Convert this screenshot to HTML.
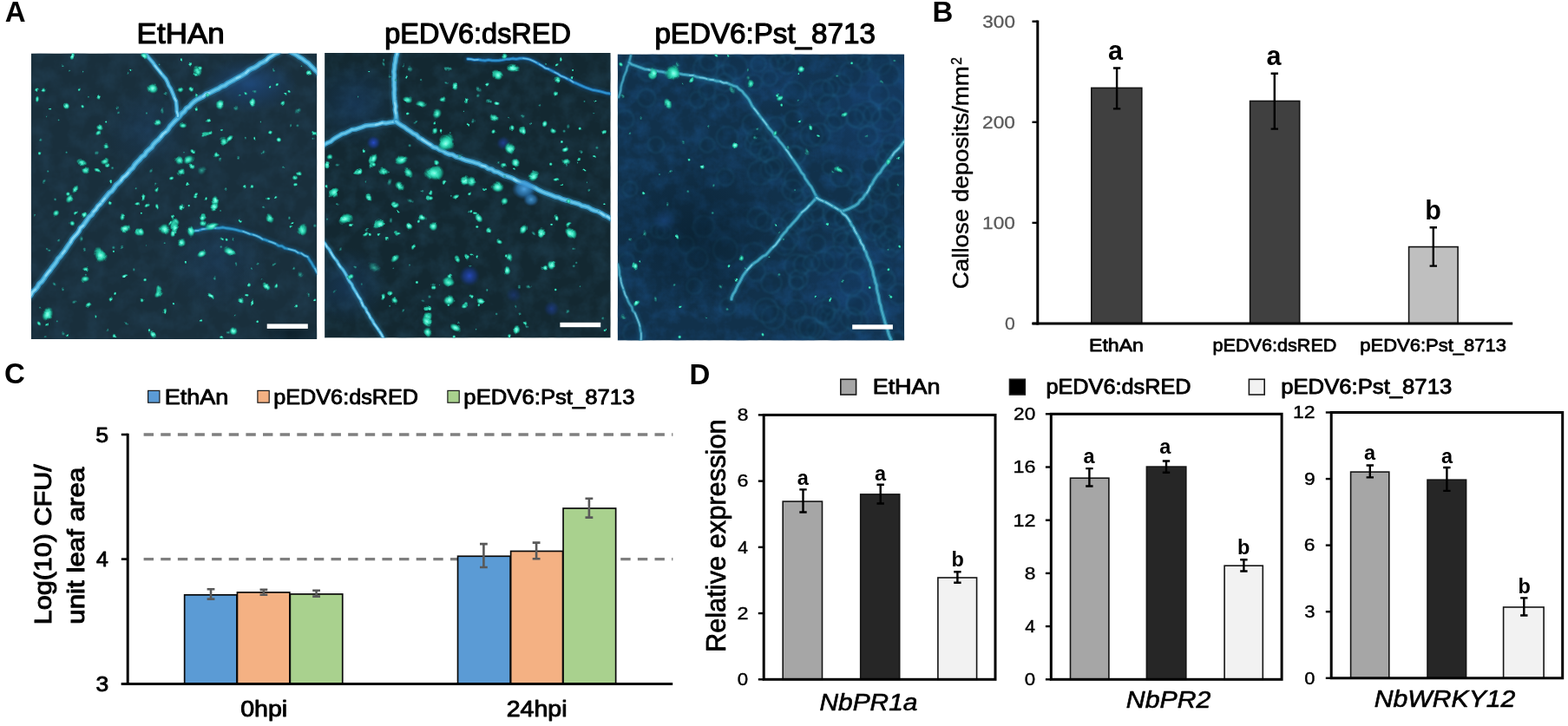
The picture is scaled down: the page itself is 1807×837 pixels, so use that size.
<!DOCTYPE html>
<html lang="en"><head><meta charset="utf-8"><title>Figure</title>
<style>
html,body{margin:0;padding:0;background:#fff;}
body{width:1807px;height:837px;overflow:hidden;}
svg{display:block;font-family:'Liberation Sans', Arial, Helvetica, sans-serif;}
</style></head><body>
<svg width="1807" height="837" viewBox="0 0 1807 837">
<rect width="1807" height="837" fill="#fff"/>
<defs>
<radialGradient id="sg"><stop offset="0" stop-color="#98fdea"/><stop offset="0.3" stop-color="#52f2d2"/><stop offset="0.6" stop-color="#22c8a4" stop-opacity="0.85"/><stop offset="0.85" stop-color="#14907c" stop-opacity="0.35"/><stop offset="1" stop-color="#0c6a60" stop-opacity="0"/></radialGradient>
<radialGradient id="sgn"><stop offset="0" stop-color="#6cf4d8"/><stop offset="0.35" stop-color="#34dcb8"/><stop offset="0.65" stop-color="#1cac90" stop-opacity="0.75"/><stop offset="1" stop-color="#0c6a60" stop-opacity="0"/></radialGradient>
<radialGradient id="sgd"><stop offset="0" stop-color="#38b8a4" stop-opacity="0.9"/><stop offset="0.5" stop-color="#208c84" stop-opacity="0.6"/><stop offset="1" stop-color="#106868" stop-opacity="0"/></radialGradient>
<radialGradient id="bl"><stop offset="0" stop-color="#2a50d8" stop-opacity="0.9"/><stop offset="0.6" stop-color="#1c40b0" stop-opacity="0.5"/><stop offset="1" stop-color="#103080" stop-opacity="0"/></radialGradient>
<radialGradient id="lb"><stop offset="0" stop-color="#50a8e8" stop-opacity="0.95"/><stop offset="0.6" stop-color="#3088d0" stop-opacity="0.6"/><stop offset="1" stop-color="#2060a0" stop-opacity="0"/></radialGradient>
<radialGradient id="hz"><stop offset="0" stop-color="#2058a8" stop-opacity="0.55"/><stop offset="1" stop-color="#2058a8" stop-opacity="0"/></radialGradient>
<radialGradient id="dk"><stop offset="0" stop-color="#04141c" stop-opacity="0.6"/><stop offset="1" stop-color="#04141c" stop-opacity="0"/></radialGradient>
<filter id="b1" color-interpolation-filters="sRGB" filterUnits="userSpaceOnUse" x="30" y="55" width="1020" height="345"><feGaussianBlur stdDeviation="0.6"/></filter>
<filter id="sp" color-interpolation-filters="sRGB" filterUnits="userSpaceOnUse" x="30" y="55" width="1020" height="345"><feTurbulence type="fractalNoise" baseFrequency="0.075" numOctaves="2" seed="3" result="t"/><feDisplacementMap in="SourceGraphic" in2="t" scale="4.5" xChannelSelector="R" yChannelSelector="G" result="d"/><feGaussianBlur in="d" stdDeviation="0.6"/></filter>
<filter id="vn" color-interpolation-filters="sRGB" filterUnits="userSpaceOnUse" x="30" y="55" width="1020" height="345"><feTurbulence type="fractalNoise" baseFrequency="0.035" numOctaves="1" seed="9" result="t"/><feDisplacementMap in="SourceGraphic" in2="t" scale="3" xChannelSelector="R" yChannelSelector="G" result="d"/><feTurbulence type="fractalNoise" baseFrequency="0.35" numOctaves="1" seed="2" result="t2"/><feDisplacementMap in="d" in2="t2" scale="1.6" xChannelSelector="R" yChannelSelector="G" result="d2"/><feGaussianBlur in="d2" stdDeviation="0.65"/></filter>
<filter id="b3" color-interpolation-filters="sRGB" filterUnits="userSpaceOnUse" x="30" y="55" width="1020" height="345"><feGaussianBlur stdDeviation="1.0"/></filter>
<filter id="b2" color-interpolation-filters="sRGB" filterUnits="userSpaceOnUse" x="30" y="55" width="1020" height="345"><feGaussianBlur stdDeviation="1.6"/></filter>
<filter id="n1" color-interpolation-filters="sRGB" x="0" y="0" width="100%" height="100%"><feTurbulence type="fractalNoise" baseFrequency="0.05" numOctaves="4" seed="4"/><feColorMatrix type="matrix" values="0 0 0 0 0.13  0 0 0 0 0.25  0 0 0 0 0.33  1.3 0 0 0 -0.50"/></filter>
<filter id="n2" color-interpolation-filters="sRGB" x="0" y="0" width="100%" height="100%"><feTurbulence type="fractalNoise" baseFrequency="0.05" numOctaves="4" seed="11"/><feColorMatrix type="matrix" values="0 0 0 0 0.12  0 0 0 0 0.25  0 0 0 0 0.32  1.3 0 0 0 -0.50"/></filter>
<filter id="n3" color-interpolation-filters="sRGB" x="0" y="0" width="100%" height="100%"><feTurbulence type="fractalNoise" baseFrequency="0.06" numOctaves="4" seed="23"/><feColorMatrix type="matrix" values="0 0 0 0 0.09  0 0 0 0 0.28  0 0 0 0 0.46  1.5 0 0 0 -0.56"/></filter>
<filter id="n3d" color-interpolation-filters="sRGB" x="0" y="0" width="100%" height="100%"><feTurbulence type="fractalNoise" baseFrequency="0.09" numOctaves="3" seed="7"/><feColorMatrix type="matrix" values="0 0 0 0 0.03  0 0 0 0 0.10  0 0 0 0 0.14  0 1.8 0 0 -0.72"/></filter>
<clipPath id="c1"><rect x="35.8" y="61.5" width="329.5" height="329.6"/></clipPath>
<clipPath id="c2"><rect x="374.1" y="61" width="329.6" height="328.6"/></clipPath>
<clipPath id="c3"><rect x="711.7" y="62.4" width="330.5" height="330.2"/></clipPath>
</defs>
<g clip-path="url(#c1)">
<rect x="35.80" y="61.50" width="329.50" height="329.60" fill="#192f3c"/>
<rect x="35.8" y="61.5" width="329.5" height="329.6" filter="url(#n1)"/>
<ellipse cx="288.0" cy="98.0" rx="55.0" ry="32.0" fill="url(#hz)" opacity="0.9"/>
<ellipse cx="250.0" cy="300.0" rx="60.0" ry="60.0" fill="url(#hz)" opacity="0.3"/>
<ellipse cx="170.0" cy="150.0" rx="50.0" ry="50.0" fill="url(#hz)" opacity="0.3"/>
<ellipse cx="335.0" cy="384.0" rx="40.0" ry="16.0" fill="url(#dk)" opacity="0.9"/>
<path d="M33.0,343.0 L35.7,340.1 L37.6,336.4 L40.7,333.8 L43.3,330.7 L45.1,327.1 L48.3,324.5 L50.6,321.3 L52.8,317.8 L55.2,314.6 L57.8,311.6 L60.0,308.3 L62.5,305.2 L64.9,302.0 L66.8,298.4 L69.7,295.6 L72.0,292.3 L74.5,289.2 L76.7,285.8 L78.9,282.5 L81.3,279.3 L83.2,275.7 L85.8,272.7 L88.6,269.7 L91.0,266.5 L92.6,262.8 L95.8,260.1 L98.1,256.8 L100.4,253.5 L102.6,250.2 L105.8,247.6 L107.8,244.1 L110.6,241.3 L112.7,237.8 L115.7,235.1 L118.2,231.9 L120.7,228.8 L123.2,225.7 L125.7,222.6 L129.0,220.2 L131.4,217.0 L133.6,213.5 L136.7,210.9 L139.5,208.1 L141.8,204.7 L145.0,202.3 L147.6,199.3 L150.1,196.1 L153.1,193.5 L155.2,189.9 L157.8,186.9 L160.7,184.2 L163.3,181.1 L166.6,178.7 L168.7,175.1 L171.6,172.4 L174.7,169.9 L176.8,166.3 L179.6,163.4 L182.7,160.8 L185.3,157.8 L187.7,154.6 L190.9,152.1 L193.7,149.3 L195.8,145.7 L198.5,142.8 L201.2,139.8 L204.1,137.1 L206.9,134.2 L209.3,131.0 L212.4,128.5 L214.7,125.0 L218.2,122.9 L220.7,119.8 L223.7,117.1 L227.0,114.8 L230.6,112.9 L234.2,111.2 L237.3,108.5 L241.2,107.3 L244.7,105.5 L248.3,103.7 L252.0,102.1 L255.3,99.7 L259.1,98.5 L262.3,96.0 L265.8,94.1 L269.4,92.2 L272.8,90.2 L276.4,88.3 L279.8,86.3 L283.3,84.2 L286.2,81.4 L289.6,79.3 L293.4,77.8 L296.8,75.7 L299.9,73.1 L303.6,71.5 L307.0,69.4 L309.9,66.5 L313.3,64.4 L316.6,62.1 L320.4,60.6 L322.0,59.0" stroke="#379ccc" stroke-width="10.2" opacity="0.26" fill="none" stroke-linecap="round" stroke-linejoin="round" filter="url(#b2)"/><g filter="url(#b1)" fill="none" stroke-linecap="round" stroke-linejoin="round"><path d="M33.0,343.0 L35.7,340.1 L37.6,336.4 L40.7,333.8 L43.3,330.7 L45.1,327.1 L48.3,324.5 L50.6,321.3 L52.8,317.8 L55.2,314.6 L57.8,311.6 L60.0,308.3 L62.5,305.2 L64.9,302.0 L66.8,298.4 L69.7,295.6 L72.0,292.3 L74.5,289.2 L76.7,285.8 L78.9,282.5 L81.3,279.3 L83.2,275.7 L85.8,272.7 L88.6,269.7 L91.0,266.5 L92.6,262.8 L95.8,260.1 L98.1,256.8 L100.4,253.5 L102.6,250.2 L105.8,247.6 L107.8,244.1 L110.6,241.3 L112.7,237.8 L115.7,235.1 L118.2,231.9 L120.7,228.8 L123.2,225.7 L125.7,222.6 L129.0,220.2 L131.4,217.0 L133.6,213.5 L136.7,210.9 L139.5,208.1 L141.8,204.7 L145.0,202.3 L147.6,199.3 L150.1,196.1 L153.1,193.5 L155.2,189.9 L157.8,186.9 L160.7,184.2 L163.3,181.1 L166.6,178.7 L168.7,175.1 L171.6,172.4 L174.7,169.9 L176.8,166.3 L179.6,163.4 L182.7,160.8 L185.3,157.8 L187.7,154.6 L190.9,152.1 L193.7,149.3 L195.8,145.7 L198.5,142.8 L201.2,139.8 L204.1,137.1 L206.9,134.2 L209.3,131.0 L212.4,128.5 L214.7,125.0 L218.2,122.9 L220.7,119.8 L223.7,117.1 L227.0,114.8 L230.6,112.9 L234.2,111.2 L237.3,108.5 L241.2,107.3 L244.7,105.5 L248.3,103.7 L252.0,102.1 L255.3,99.7 L259.1,98.5 L262.3,96.0 L265.8,94.1 L269.4,92.2 L272.8,90.2 L276.4,88.3 L279.8,86.3 L283.3,84.2 L286.2,81.4 L289.6,79.3 L293.4,77.8 L296.8,75.7 L299.9,73.1 L303.6,71.5 L307.0,69.4 L309.9,66.5 L313.3,64.4 L316.6,62.1 L320.4,60.6 L322.0,59.0" stroke="#379ccc" stroke-width="6.2" opacity="0.92"/><path d="M33.0,343.0 L35.7,340.1 L37.6,336.4 L40.7,333.8 L43.3,330.7 L45.1,327.1 L48.3,324.5 L50.6,321.3 L52.8,317.8 L55.2,314.6 L57.8,311.6 L60.0,308.3 L62.5,305.2 L64.9,302.0 L66.8,298.4 L69.7,295.6 L72.0,292.3 L74.5,289.2 L76.7,285.8 L78.9,282.5 L81.3,279.3 L83.2,275.7 L85.8,272.7 L88.6,269.7 L91.0,266.5 L92.6,262.8 L95.8,260.1 L98.1,256.8 L100.4,253.5 L102.6,250.2 L105.8,247.6 L107.8,244.1 L110.6,241.3 L112.7,237.8 L115.7,235.1 L118.2,231.9 L120.7,228.8 L123.2,225.7 L125.7,222.6 L129.0,220.2 L131.4,217.0 L133.6,213.5 L136.7,210.9 L139.5,208.1 L141.8,204.7 L145.0,202.3 L147.6,199.3 L150.1,196.1 L153.1,193.5 L155.2,189.9 L157.8,186.9 L160.7,184.2 L163.3,181.1 L166.6,178.7 L168.7,175.1 L171.6,172.4 L174.7,169.9 L176.8,166.3 L179.6,163.4 L182.7,160.8 L185.3,157.8 L187.7,154.6 L190.9,152.1 L193.7,149.3 L195.8,145.7 L198.5,142.8 L201.2,139.8 L204.1,137.1 L206.9,134.2 L209.3,131.0 L212.4,128.5 L214.7,125.0 L218.2,122.9 L220.7,119.8 L223.7,117.1 L227.0,114.8 L230.6,112.9 L234.2,111.2 L237.3,108.5 L241.2,107.3 L244.7,105.5 L248.3,103.7 L252.0,102.1 L255.3,99.7 L259.1,98.5 L262.3,96.0 L265.8,94.1 L269.4,92.2 L272.8,90.2 L276.4,88.3 L279.8,86.3 L283.3,84.2 L286.2,81.4 L289.6,79.3 L293.4,77.8 L296.8,75.7 L299.9,73.1 L303.6,71.5 L307.0,69.4 L309.9,66.5 L313.3,64.4 L316.6,62.1 L320.4,60.6 L322.0,59.0" stroke="#6cccee" stroke-width="3.1" opacity="0.85"/><path d="M33.0,343.0 L35.7,340.1 L37.6,336.4 L40.7,333.8 M52.8,317.8 L55.2,314.6 L57.8,311.6 M72.0,292.3 L74.5,289.2 M81.3,279.3 L83.2,275.7 L85.8,272.7 L88.6,269.7 M88.6,269.7 L91.0,266.5 L92.6,262.8 L95.8,260.1 M107.8,244.1 L110.6,241.3 L112.7,237.8 L115.7,235.1 M118.2,231.9 L120.7,228.8 M139.5,208.1 L141.8,204.7 L145.0,202.3 L147.6,199.3 M185.3,157.8 L187.7,154.6 L190.9,152.1 M234.2,111.2 L237.3,108.5 L241.2,107.3 M272.8,90.2 L276.4,88.3 M283.3,84.2 L286.2,81.4 M307.0,69.4 L309.9,66.5 L313.3,64.4 M313.3,64.4 L316.6,62.1 L320.4,60.6 L322.0,59.0" stroke="#a8ecff" stroke-width="2.6" opacity="0.50"/></g>
<path d="M166.0,60.0 L168.5,63.1 L171.1,66.2 L173.7,69.2 L176.3,72.2 L178.5,75.6 L181.0,78.8 L183.5,81.8 L186.0,85.0 L188.6,88.0 L191.2,91.1 L193.0,94.7 L194.4,98.5 L196.6,101.8 L198.2,105.5 L199.7,109.2 L201.1,113.0 L202.9,116.6 L203.3,120.6 L203.7,124.6 L203.8,128.6 L205.1,132.5 L205.0,134.0" stroke="#379ccc" stroke-width="8.8" opacity="0.26" fill="none" stroke-linecap="round" stroke-linejoin="round" filter="url(#b2)"/><g filter="url(#b1)" fill="none" stroke-linecap="round" stroke-linejoin="round"><path d="M166.0,60.0 L168.5,63.1 L171.1,66.2 L173.7,69.2 L176.3,72.2 L178.5,75.6 L181.0,78.8 L183.5,81.8 L186.0,85.0 L188.6,88.0 L191.2,91.1 L193.0,94.7 L194.4,98.5 L196.6,101.8 L198.2,105.5 L199.7,109.2 L201.1,113.0 L202.9,116.6 L203.3,120.6 L203.7,124.6 L203.8,128.6 L205.1,132.5 L205.0,134.0" stroke="#379ccc" stroke-width="4.8" opacity="0.92"/><path d="M166.0,60.0 L168.5,63.1 L171.1,66.2 L173.7,69.2 L176.3,72.2 L178.5,75.6 L181.0,78.8 L183.5,81.8 L186.0,85.0 L188.6,88.0 L191.2,91.1 L193.0,94.7 L194.4,98.5 L196.6,101.8 L198.2,105.5 L199.7,109.2 L201.1,113.0 L202.9,116.6 L203.3,120.6 L203.7,124.6 L203.8,128.6 L205.1,132.5 L205.0,134.0" stroke="#6cccee" stroke-width="2.4" opacity="0.85"/><path d="M178.5,75.6 L181.0,78.8 L183.5,81.8 L186.0,85.0 M201.1,113.0 L202.9,116.6 M203.8,128.6 L205.1,132.5 L205.0,134.0" stroke="#a8ecff" stroke-width="2.0" opacity="0.50"/></g>
<path d="M335.0,60.0 L338.6,61.8 L342.1,63.7 L345.3,66.1 L348.8,68.1 L351.9,70.6 L355.3,72.8 L358.1,75.7 L360.9,78.5 L363.7,81.4 L366.7,84.0 L367.0,85.0" stroke="#379ccc" stroke-width="9.8" opacity="0.26" fill="none" stroke-linecap="round" stroke-linejoin="round" filter="url(#b2)"/><g filter="url(#b1)" fill="none" stroke-linecap="round" stroke-linejoin="round"><path d="M335.0,60.0 L338.6,61.8 L342.1,63.7 L345.3,66.1 L348.8,68.1 L351.9,70.6 L355.3,72.8 L358.1,75.7 L360.9,78.5 L363.7,81.4 L366.7,84.0 L367.0,85.0" stroke="#379ccc" stroke-width="5.8" opacity="0.92"/><path d="M335.0,60.0 L338.6,61.8 L342.1,63.7 L345.3,66.1 L348.8,68.1 L351.9,70.6 L355.3,72.8 L358.1,75.7 L360.9,78.5 L363.7,81.4 L366.7,84.0 L367.0,85.0" stroke="#6cccee" stroke-width="2.9" opacity="0.85"/><path d="" stroke="#a8ecff" stroke-width="2.4" opacity="0.50"/></g>
<path d="M221.0,267.0 L224.9,266.0 L228.9,265.7 L232.7,264.4 L236.7,263.8 L240.6,263.1 L244.6,262.4 L248.6,262.9 L252.6,262.9 L256.6,262.2 L260.5,263.0 L264.5,263.5 L268.4,264.1 L272.3,265.0 L276.2,266.1 L280.1,266.8 L283.9,268.2 L287.6,269.7 L291.6,270.5 L295.3,271.8 L299.0,273.4 L302.4,275.7 L306.3,276.7 L310.0,278.2 L313.8,279.5 L317.5,281.0 L320.9,283.3 L325.0,283.7 L328.4,286.1 L332.3,287.0 L336.2,288.0 L340.1,289.1 L343.5,291.3 L347.5,292.2 L350.7,294.5 L354.5,296.1 L356.6,299.6 L358.9,302.9 L360.8,306.4 L363.1,309.7 L364.8,313.3 L366.0,315.0" stroke="#1c7cb4" stroke-width="7.8" opacity="0.22" fill="none" stroke-linecap="round" stroke-linejoin="round" filter="url(#b2)"/><g filter="url(#b1)" fill="none" stroke-linecap="round" stroke-linejoin="round"><path d="M221.0,267.0 L224.9,266.0 L228.9,265.7 L232.7,264.4 L236.7,263.8 L240.6,263.1 L244.6,262.4 L248.6,262.9 L252.6,262.9 L256.6,262.2 L260.5,263.0 L264.5,263.5 L268.4,264.1 L272.3,265.0 L276.2,266.1 L280.1,266.8 L283.9,268.2 L287.6,269.7 L291.6,270.5 L295.3,271.8 L299.0,273.4 L302.4,275.7 L306.3,276.7 L310.0,278.2 L313.8,279.5 L317.5,281.0 L320.9,283.3 L325.0,283.7 L328.4,286.1 L332.3,287.0 L336.2,288.0 L340.1,289.1 L343.5,291.3 L347.5,292.2 L350.7,294.5 L354.5,296.1 L356.6,299.6 L358.9,302.9 L360.8,306.4 L363.1,309.7 L364.8,313.3 L366.0,315.0" stroke="#1c7cb4" stroke-width="3.8" opacity="0.78"/><path d="M221.0,267.0 L224.9,266.0 L228.9,265.7 L232.7,264.4 L236.7,263.8 L240.6,263.1 L244.6,262.4 L248.6,262.9 L252.6,262.9 L256.6,262.2 L260.5,263.0 L264.5,263.5 L268.4,264.1 L272.3,265.0 L276.2,266.1 L280.1,266.8 L283.9,268.2 L287.6,269.7 L291.6,270.5 L295.3,271.8 L299.0,273.4 L302.4,275.7 L306.3,276.7 L310.0,278.2 L313.8,279.5 L317.5,281.0 L320.9,283.3 L325.0,283.7 L328.4,286.1 L332.3,287.0 L336.2,288.0 L340.1,289.1 L343.5,291.3 L347.5,292.2 L350.7,294.5 L354.5,296.1 L356.6,299.6 L358.9,302.9 L360.8,306.4 L363.1,309.7 L364.8,313.3 L366.0,315.0" stroke="#3aa8d8" stroke-width="1.9" opacity="0.72"/><path d="M221.0,267.0 L224.9,266.0 L228.9,265.7 M232.7,264.4 L236.7,263.8 M236.7,263.8 L240.6,263.1 L244.6,262.4 L248.6,262.9 M280.1,266.8 L283.9,268.2 L287.6,269.7 M291.6,270.5 L295.3,271.8 L299.0,273.4 L302.4,275.7 M310.0,278.2 L313.8,279.5 L317.5,281.0 M332.3,287.0 L336.2,288.0 L340.1,289.1 L343.5,291.3 M347.5,292.2 L350.7,294.5 L354.5,296.1 M363.1,309.7 L364.8,313.3 L366.0,315.0" stroke="#a8ecff" stroke-width="1.6" opacity="0.42"/></g>
<g filter="url(#sp)"><circle cx="227.2" cy="126.1" r="2.5" fill="url(#sgn)"/><circle cx="189.7" cy="280.3" r="1.6" fill="url(#sgd)"/><circle cx="130.9" cy="289.8" r="1.6" fill="url(#sgn)"/><circle cx="59.1" cy="125.6" r="1.4" fill="url(#sgn)"/><circle cx="156.6" cy="217.2" r="1.7" fill="url(#sgd)"/><circle cx="168.9" cy="130.5" r="1.8" fill="url(#sgd)"/><circle cx="72.5" cy="332.9" r="2.1" fill="url(#sgd)"/><circle cx="326.3" cy="191.8" r="1.8" fill="url(#sgd)"/><circle cx="169.1" cy="282.1" r="1.3" fill="url(#sgd)"/><circle cx="212.0" cy="175.7" r="1.3" fill="url(#sgd)"/><circle cx="39.1" cy="247.7" r="1.5" fill="url(#sgd)"/><circle cx="95.5" cy="83.6" r="1.5" fill="url(#sgd)"/><circle cx="275.6" cy="181.4" r="2.1" fill="url(#sgd)"/><circle cx="200.0" cy="350.2" r="1.7" fill="url(#sgn)"/><circle cx="263.4" cy="286.9" r="1.3" fill="url(#sgd)"/><circle cx="46.5" cy="175.8" r="2.4" fill="url(#sgn)"/><circle cx="311.9" cy="101.1" r="2.1" fill="url(#sgn)"/><circle cx="302.2" cy="322.6" r="1.5" fill="url(#sgd)"/><circle cx="296.8" cy="304.9" r="2.4" fill="url(#sgd)"/><circle cx="328.7" cy="107.9" r="2.4" fill="url(#sgn)"/><circle cx="147.1" cy="84.2" r="2.0" fill="url(#sgd)"/><circle cx="151.3" cy="80.9" r="1.6" fill="url(#sgn)"/><circle cx="65.8" cy="370.4" r="1.6" fill="url(#sgd)"/><circle cx="72.9" cy="384.8" r="2.4" fill="url(#sgd)"/><circle cx="67.5" cy="276.9" r="2.4" fill="url(#sgd)"/><circle cx="244.3" cy="343.9" r="1.9" fill="url(#sgd)"/><circle cx="300.6" cy="140.5" r="1.6" fill="url(#sgd)"/><circle cx="217.7" cy="238.1" r="1.7" fill="url(#sgn)"/><circle cx="130.8" cy="285.4" r="2.4" fill="url(#sgd)"/><circle cx="53.9" cy="134.5" r="1.4" fill="url(#sgd)"/><circle cx="75.6" cy="174.7" r="1.7" fill="url(#sgd)"/><circle cx="254.8" cy="284.6" r="2.1" fill="url(#sgd)"/><circle cx="254.1" cy="242.9" r="1.5" fill="url(#sgd)"/><circle cx="140.7" cy="284.4" r="2.2" fill="url(#sgd)"/><circle cx="179.2" cy="211.7" r="1.7" fill="url(#sgd)"/><circle cx="52.3" cy="388.6" r="2.2" fill="url(#sgd)"/><circle cx="255.3" cy="150.5" r="2.2" fill="url(#sgn)"/><circle cx="290.4" cy="215.0" r="2.5" fill="url(#sgn)"/><circle cx="55.2" cy="197.5" r="1.8" fill="url(#sgd)"/><circle cx="238.8" cy="109.2" r="2.2" fill="url(#sgn)"/><circle cx="56.3" cy="289.7" r="1.6" fill="url(#sgd)"/><circle cx="263.4" cy="383.3" r="2.3" fill="url(#sgd)"/><circle cx="276.2" cy="110.3" r="2.2" fill="url(#sgd)"/><circle cx="123.2" cy="140.5" r="1.6" fill="url(#sgn)"/><circle cx="67.6" cy="138.4" r="1.5" fill="url(#sgd)"/><circle cx="276.2" cy="255.2" r="2.1" fill="url(#sgn)"/><circle cx="183.6" cy="74.4" r="1.5" fill="url(#sgd)"/><circle cx="271.3" cy="364.2" r="1.9" fill="url(#sgd)"/><circle cx="231.0" cy="369.5" r="1.7" fill="url(#sgn)"/><circle cx="333.4" cy="251.8" r="1.9" fill="url(#sgd)"/><circle cx="72.3" cy="75.5" r="2.0" fill="url(#sgd)"/><circle cx="362.8" cy="260.2" r="2.5" fill="url(#sgd)"/><circle cx="80.1" cy="81.6" r="1.6" fill="url(#sgd)"/><circle cx="360.5" cy="159.8" r="1.6" fill="url(#sgd)"/><circle cx="163.8" cy="245.7" r="1.5" fill="url(#sgn)"/><circle cx="338.5" cy="310.4" r="2.4" fill="url(#sgd)"/><circle cx="46.7" cy="162.3" r="2.4" fill="url(#sgd)"/><circle cx="101.9" cy="111.7" r="1.5" fill="url(#sgd)"/><circle cx="340.6" cy="352.8" r="2.2" fill="url(#sgn)"/><circle cx="98.8" cy="317.8" r="1.6" fill="url(#sgd)"/><circle cx="47.0" cy="355.6" r="1.5" fill="url(#sgd)"/><circle cx="253.9" cy="273.9" r="2.1" fill="url(#sgd)"/><circle cx="296.7" cy="370.8" r="2.0" fill="url(#sgn)"/><circle cx="315.6" cy="80.3" r="2.1" fill="url(#sgd)"/><circle cx="253.6" cy="184.2" r="2.3" fill="url(#sgd)"/><circle cx="347.4" cy="76.3" r="1.4" fill="url(#sgd)"/><circle cx="77.3" cy="386.4" r="2.3" fill="url(#sgn)"/><circle cx="97.3" cy="288.2" r="2.3" fill="url(#sgd)"/><circle cx="124.7" cy="381.4" r="2.2" fill="url(#sgd)"/><circle cx="129.6" cy="192.7" r="2.2" fill="url(#sgd)"/><ellipse cx="83.3" cy="64.0" rx="3.1" ry="4.7" fill="url(#sg)" transform="rotate(16 83.3 64.0)"/><ellipse cx="166.1" cy="64.5" rx="3.9" ry="5.1" fill="url(#sg)" transform="rotate(126 166.1 64.5)"/><ellipse cx="41.9" cy="103.4" rx="2.6" ry="2.0" fill="url(#sgn)" transform="rotate(120 41.9 103.4)"/><ellipse cx="49.8" cy="103.4" rx="3.7" ry="3.2" fill="url(#sgn)" transform="rotate(53 49.8 103.4)"/><ellipse cx="42.9" cy="113.8" rx="2.3" ry="3.6" fill="url(#sgn)" transform="rotate(7 42.9 113.8)"/><ellipse cx="91.2" cy="103.0" rx="2.7" ry="1.9" fill="url(#sgn)" transform="rotate(99 91.2 103.0)"/><ellipse cx="114.9" cy="112.8" rx="3.3" ry="3.5" fill="url(#sgn)" transform="rotate(0 114.9 112.8)"/><ellipse cx="76.8" cy="122.1" rx="4.2" ry="3.5" fill="url(#sg)" transform="rotate(68 76.8 122.1)"/><ellipse cx="95.1" cy="122.7" rx="2.5" ry="2.1" fill="url(#sgn)" transform="rotate(58 95.1 122.7)"/><ellipse cx="176.0" cy="102.0" rx="6.7" ry="6.1" fill="url(#sg)" transform="rotate(26 176.0 102.0)"/><ellipse cx="190.7" cy="108.3" rx="3.1" ry="2.1" fill="url(#sgd)" transform="rotate(7 190.7 108.3)"/><ellipse cx="187.8" cy="128.0" rx="2.3" ry="4.0" fill="url(#sgd)" transform="rotate(166 187.8 128.0)"/><ellipse cx="181.5" cy="141.2" rx="4.1" ry="3.9" fill="url(#sgn)" transform="rotate(97 181.5 141.2)"/><ellipse cx="135.6" cy="124.1" rx="2.3" ry="1.9" fill="url(#sgd)" transform="rotate(108 135.6 124.1)"/><ellipse cx="136.5" cy="130.0" rx="2.3" ry="1.9" fill="url(#sgd)" transform="rotate(135 136.5 130.0)"/><ellipse cx="114.9" cy="147.3" rx="3.4" ry="4.6" fill="url(#sgn)" transform="rotate(112 114.9 147.3)"/><ellipse cx="113.3" cy="153.1" rx="4.2" ry="2.8" fill="url(#sgn)" transform="rotate(141 113.3 153.1)"/><ellipse cx="122.7" cy="168.8" rx="3.0" ry="4.0" fill="url(#sgn)" transform="rotate(59 122.7 168.8)"/><ellipse cx="111.9" cy="176.3" rx="2.8" ry="2.4" fill="url(#sgd)" transform="rotate(117 111.9 176.3)"/><ellipse cx="94.2" cy="187.2" rx="5.6" ry="3.7" fill="url(#sgn)" transform="rotate(5 94.2 187.2)"/><ellipse cx="99.1" cy="195.4" rx="4.4" ry="4.8" fill="url(#sgn)" transform="rotate(142 99.1 195.4)"/><ellipse cx="111.9" cy="197.0" rx="4.2" ry="2.8" fill="url(#sgn)" transform="rotate(25 111.9 197.0)"/><ellipse cx="120.8" cy="186.2" rx="3.9" ry="5.4" fill="url(#sgn)" transform="rotate(75 120.8 186.2)"/><ellipse cx="123.7" cy="190.1" rx="2.3" ry="3.5" fill="url(#sgn)" transform="rotate(85 123.7 190.1)"/><ellipse cx="50.8" cy="209.8" rx="3.1" ry="2.1" fill="url(#sgd)" transform="rotate(128 50.8 209.8)"/><ellipse cx="86.9" cy="217.7" rx="5.6" ry="3.8" fill="url(#sgn)" transform="rotate(108 86.9 217.7)"/><ellipse cx="78.4" cy="223.6" rx="2.9" ry="2.8" fill="url(#sgn)" transform="rotate(171 78.4 223.6)"/><ellipse cx="197.6" cy="204.5" rx="2.4" ry="3.4" fill="url(#sgn)" transform="rotate(72 197.6 204.5)"/><ellipse cx="180.9" cy="218.7" rx="3.6" ry="3.3" fill="url(#sgn)" transform="rotate(127 180.9 218.7)"/><ellipse cx="174.0" cy="197.0" rx="3.0" ry="2.2" fill="url(#sgd)" transform="rotate(129 174.0 197.0)"/><ellipse cx="127.7" cy="208.8" rx="2.0" ry="2.2" fill="url(#sgn)" transform="rotate(8 127.7 208.8)"/><ellipse cx="227.6" cy="81.7" rx="5.7" ry="5.8" fill="url(#sgn)" transform="rotate(103 227.6 81.7)"/><ellipse cx="230.6" cy="78.7" rx="2.7" ry="3.0" fill="url(#sgn)" transform="rotate(44 230.6 78.7)"/><ellipse cx="224.7" cy="85.6" rx="2.7" ry="3.1" fill="url(#sgn)" transform="rotate(179 224.7 85.6)"/><ellipse cx="218.7" cy="74.8" rx="2.6" ry="2.0" fill="url(#sgn)" transform="rotate(95 218.7 74.8)"/><ellipse cx="209.9" cy="68.9" rx="1.7" ry="2.6" fill="url(#sgn)" transform="rotate(169 209.9 68.9)"/><ellipse cx="206.9" cy="103.0" rx="4.0" ry="4.0" fill="url(#sgn)" transform="rotate(41 206.9 103.0)"/><ellipse cx="220.7" cy="102.4" rx="2.9" ry="2.8" fill="url(#sgn)" transform="rotate(100 220.7 102.4)"/><ellipse cx="225.6" cy="109.3" rx="2.0" ry="2.2" fill="url(#sgn)" transform="rotate(7 225.6 109.3)"/><ellipse cx="253.8" cy="120.1" rx="5.7" ry="5.8" fill="url(#sg)" transform="rotate(78 253.8 120.1)"/><ellipse cx="272.0" cy="124.1" rx="3.4" ry="2.8" fill="url(#sgd)" transform="rotate(157 272.0 124.1)"/><ellipse cx="290.7" cy="118.2" rx="4.7" ry="4.3" fill="url(#sg)" transform="rotate(100 290.7 118.2)"/><ellipse cx="283.8" cy="108.3" rx="3.1" ry="2.7" fill="url(#sgn)" transform="rotate(43 283.8 108.3)"/><ellipse cx="293.7" cy="105.4" rx="2.6" ry="2.6" fill="url(#sgd)" transform="rotate(3 293.7 105.4)"/><ellipse cx="320.3" cy="97.5" rx="2.6" ry="2.0" fill="url(#sgn)" transform="rotate(138 320.3 97.5)"/><ellipse cx="324.8" cy="119.7" rx="3.5" ry="2.4" fill="url(#sgn)" transform="rotate(140 324.8 119.7)"/><ellipse cx="333.1" cy="105.4" rx="1.8" ry="2.4" fill="url(#sgn)" transform="rotate(131 333.1 105.4)"/><ellipse cx="355.7" cy="84.3" rx="3.5" ry="4.2" fill="url(#sg)" transform="rotate(147 355.7 84.3)"/><ellipse cx="342.9" cy="128.0" rx="3.3" ry="3.9" fill="url(#sgd)" transform="rotate(68 342.9 128.0)"/><ellipse cx="240.4" cy="138.9" rx="3.1" ry="2.6" fill="url(#sgn)" transform="rotate(155 240.4 138.9)"/><ellipse cx="210.9" cy="144.8" rx="4.9" ry="3.3" fill="url(#sgn)" transform="rotate(1 210.9 144.8)"/><ellipse cx="233.7" cy="154.2" rx="3.8" ry="2.5" fill="url(#sgn)" transform="rotate(131 233.7 154.2)"/><ellipse cx="235.7" cy="153.7" rx="3.2" ry="3.0" fill="url(#sgn)" transform="rotate(109 235.7 153.7)"/><ellipse cx="237.7" cy="153.6" rx="2.9" ry="3.3" fill="url(#sgn)" transform="rotate(141 237.7 153.6)"/><ellipse cx="239.2" cy="153.7" rx="3.1" ry="3.1" fill="url(#sgn)" transform="rotate(91 239.2 153.7)"/><ellipse cx="241.2" cy="152.9" rx="3.1" ry="3.0" fill="url(#sgn)" transform="rotate(156 241.2 152.9)"/><ellipse cx="257.2" cy="162.5" rx="4.7" ry="5.6" fill="url(#sgn)" transform="rotate(153 257.2 162.5)"/><ellipse cx="264.1" cy="159.6" rx="3.4" ry="5.9" fill="url(#sg)" transform="rotate(58 264.1 159.6)"/><ellipse cx="310.4" cy="152.7" rx="3.1" ry="2.7" fill="url(#sgn)" transform="rotate(140 310.4 152.7)"/><ellipse cx="321.3" cy="161.1" rx="3.3" ry="3.1" fill="url(#sg)" transform="rotate(23 321.3 161.1)"/><ellipse cx="293.7" cy="159.6" rx="2.6" ry="2.0" fill="url(#sgn)" transform="rotate(65 293.7 159.6)"/><ellipse cx="282.8" cy="159.6" rx="1.6" ry="2.7" fill="url(#sgd)" transform="rotate(172 282.8 159.6)"/><ellipse cx="335.1" cy="144.8" rx="1.6" ry="2.7" fill="url(#sgd)" transform="rotate(4 335.1 144.8)"/><ellipse cx="342.9" cy="144.8" rx="2.1" ry="2.2" fill="url(#sgd)" transform="rotate(71 342.9 144.8)"/><ellipse cx="249.3" cy="179.3" rx="3.0" ry="3.9" fill="url(#sgn)" transform="rotate(28 249.3 179.3)"/><ellipse cx="222.7" cy="174.4" rx="3.3" ry="2.5" fill="url(#sgn)" transform="rotate(47 222.7 174.4)"/><ellipse cx="205.9" cy="185.2" rx="5.3" ry="6.2" fill="url(#sgn)" transform="rotate(17 205.9 185.2)"/><ellipse cx="217.8" cy="184.2" rx="5.2" ry="7.5" fill="url(#sgn)" transform="rotate(65 217.8 184.2)"/><ellipse cx="220.7" cy="192.1" rx="3.5" ry="3.4" fill="url(#sgn)" transform="rotate(43 220.7 192.1)"/><ellipse cx="208.9" cy="199.0" rx="4.9" ry="4.2" fill="url(#sgn)" transform="rotate(165 208.9 199.0)"/><ellipse cx="232.5" cy="196.0" rx="6.2" ry="5.1" fill="url(#sgd)" transform="rotate(116 232.5 196.0)"/><ellipse cx="303.5" cy="175.3" rx="2.8" ry="2.3" fill="url(#sgd)" transform="rotate(127 303.5 175.3)"/><ellipse cx="344.9" cy="200.6" rx="3.4" ry="3.5" fill="url(#sgn)" transform="rotate(6 344.9 200.6)"/><ellipse cx="341.0" cy="205.9" rx="3.1" ry="3.8" fill="url(#sgn)" transform="rotate(87 341.0 205.9)"/><ellipse cx="341.0" cy="212.8" rx="2.2" ry="2.4" fill="url(#sgn)" transform="rotate(48 341.0 212.8)"/><ellipse cx="281.8" cy="214.8" rx="2.0" ry="2.6" fill="url(#sgn)" transform="rotate(64 281.8 214.8)"/><ellipse cx="260.1" cy="217.7" rx="2.5" ry="1.8" fill="url(#sgd)" transform="rotate(130 260.1 217.7)"/><ellipse cx="225.6" cy="223.6" rx="4.2" ry="2.8" fill="url(#sgn)" transform="rotate(155 225.6 223.6)"/><ellipse cx="215.8" cy="212.8" rx="2.2" ry="2.4" fill="url(#sgn)" transform="rotate(5 215.8 212.8)"/><ellipse cx="361.7" cy="153.7" rx="2.5" ry="3.3" fill="url(#sgn)" transform="rotate(101 361.7 153.7)"/><ellipse cx="80.4" cy="229.0" rx="4.2" ry="6.2" fill="url(#sgn)" transform="rotate(41 80.4 229.0)"/><ellipse cx="62.6" cy="229.9" rx="2.0" ry="2.2" fill="url(#sgd)" transform="rotate(129 62.6 229.9)"/><ellipse cx="64.6" cy="245.7" rx="4.4" ry="3.7" fill="url(#sgn)" transform="rotate(139 64.6 245.7)"/><ellipse cx="86.3" cy="245.7" rx="3.3" ry="2.5" fill="url(#sgn)" transform="rotate(161 86.3 245.7)"/><ellipse cx="96.1" cy="247.7" rx="4.4" ry="3.3" fill="url(#sg)" transform="rotate(132 96.1 247.7)"/><ellipse cx="83.3" cy="257.5" rx="3.3" ry="3.5" fill="url(#sgn)" transform="rotate(134 83.3 257.5)"/><ellipse cx="93.2" cy="275.3" rx="3.9" ry="3.3" fill="url(#sgd)" transform="rotate(101 93.2 275.3)"/><ellipse cx="126.7" cy="233.9" rx="3.1" ry="2.6" fill="url(#sgn)" transform="rotate(82 126.7 233.9)"/><ellipse cx="140.5" cy="250.6" rx="4.3" ry="3.7" fill="url(#sgn)" transform="rotate(109 140.5 250.6)"/><ellipse cx="158.2" cy="234.9" rx="2.2" ry="3.7" fill="url(#sgn)" transform="rotate(76 158.2 234.9)"/><ellipse cx="170.1" cy="235.9" rx="2.3" ry="3.5" fill="url(#sgn)" transform="rotate(54 170.1 235.9)"/><ellipse cx="180.9" cy="238.8" rx="3.4" ry="2.4" fill="url(#sgn)" transform="rotate(78 180.9 238.8)"/><ellipse cx="165.1" cy="227.0" rx="2.7" ry="4.4" fill="url(#sgn)" transform="rotate(19 165.1 227.0)"/><ellipse cx="144.4" cy="263.5" rx="4.6" ry="5.6" fill="url(#sg)" transform="rotate(76 144.4 263.5)"/><ellipse cx="158.7" cy="267.2" rx="4.5" ry="5.9" fill="url(#sg)" transform="rotate(2 158.7 267.2)"/><ellipse cx="160.2" cy="268.1" rx="5.4" ry="4.9" fill="url(#sg)" transform="rotate(55 160.2 268.1)"/><ellipse cx="162.2" cy="267.5" rx="4.3" ry="6.2" fill="url(#sg)" transform="rotate(159 162.2 267.5)"/><ellipse cx="189.8" cy="263.5" rx="7.1" ry="7.0" fill="url(#sg)" transform="rotate(96 189.8 263.5)"/><ellipse cx="199.6" cy="268.4" rx="3.3" ry="4.5" fill="url(#sg)" transform="rotate(25 199.6 268.4)"/><ellipse cx="198.6" cy="250.6" rx="2.0" ry="2.7" fill="url(#sgn)" transform="rotate(172 198.6 250.6)"/><ellipse cx="196.7" cy="256.6" rx="3.4" ry="2.4" fill="url(#sgn)" transform="rotate(151 196.7 256.6)"/><ellipse cx="114.8" cy="293.6" rx="8.7" ry="7.4" fill="url(#sg)" transform="rotate(75 114.8 293.6)"/><ellipse cx="115.9" cy="295.5" rx="8.5" ry="7.6" fill="url(#sg)" transform="rotate(102 115.9 295.5)"/><ellipse cx="99.1" cy="310.8" rx="4.8" ry="3.3" fill="url(#sgn)" transform="rotate(4 99.1 310.8)"/><ellipse cx="98.1" cy="322.6" rx="3.8" ry="5.5" fill="url(#sgn)" transform="rotate(83 98.1 322.6)"/><ellipse cx="143.4" cy="317.7" rx="3.7" ry="2.8" fill="url(#sg)" transform="rotate(144 143.4 317.7)"/><ellipse cx="154.3" cy="310.8" rx="2.4" ry="1.8" fill="url(#sgd)" transform="rotate(86 154.3 310.8)"/><ellipse cx="166.1" cy="322.6" rx="2.2" ry="2.4" fill="url(#sgn)" transform="rotate(68 166.1 322.6)"/><ellipse cx="183.2" cy="334.2" rx="5.6" ry="3.8" fill="url(#sgn)" transform="rotate(88 183.2 334.2)"/><ellipse cx="183.7" cy="336.6" rx="4.7" ry="4.6" fill="url(#sgn)" transform="rotate(136 183.7 336.6)"/><ellipse cx="182.3" cy="338.9" rx="3.7" ry="5.8" fill="url(#sgn)" transform="rotate(43 182.3 338.9)"/><ellipse cx="61.6" cy="328.5" rx="2.1" ry="3.1" fill="url(#sgd)" transform="rotate(137 61.6 328.5)"/><ellipse cx="53.7" cy="288.1" rx="1.8" ry="2.5" fill="url(#sgd)" transform="rotate(85 53.7 288.1)"/><ellipse cx="127.7" cy="345.3" rx="3.0" ry="2.7" fill="url(#sgn)" transform="rotate(65 127.7 345.3)"/><ellipse cx="164.1" cy="346.3" rx="2.7" ry="3.1" fill="url(#sgn)" transform="rotate(87 164.1 346.3)"/><ellipse cx="103.0" cy="352.2" rx="2.8" ry="4.3" fill="url(#sgn)" transform="rotate(60 103.0 352.2)"/><ellipse cx="86.3" cy="348.2" rx="3.0" ry="2.2" fill="url(#sgd)" transform="rotate(154 86.3 348.2)"/><ellipse cx="54.7" cy="362.0" rx="8.0" ry="6.2" fill="url(#sg)" transform="rotate(125 54.7 362.0)"/><ellipse cx="44.9" cy="372.9" rx="2.3" ry="3.5" fill="url(#sgn)" transform="rotate(141 44.9 372.9)"/><ellipse cx="53.7" cy="374.8" rx="2.4" ry="1.9" fill="url(#sgn)" transform="rotate(82 53.7 374.8)"/><ellipse cx="189.8" cy="359.1" rx="2.6" ry="4.5" fill="url(#sgn)" transform="rotate(18 189.8 359.1)"/><ellipse cx="109.9" cy="364.0" rx="2.0" ry="2.2" fill="url(#sgn)" transform="rotate(37 109.9 364.0)"/><ellipse cx="131.6" cy="387.6" rx="3.3" ry="2.5" fill="url(#sgn)" transform="rotate(87 131.6 387.6)"/><ellipse cx="176.0" cy="385.7" rx="3.1" ry="4.7" fill="url(#sg)" transform="rotate(150 176.0 385.7)"/><ellipse cx="172.0" cy="381.7" rx="2.4" ry="1.8" fill="url(#sgn)" transform="rotate(96 172.0 381.7)"/><ellipse cx="145.4" cy="372.9" rx="1.7" ry="2.7" fill="url(#sgd)" transform="rotate(140 145.4 372.9)"/><ellipse cx="132.6" cy="338.4" rx="1.8" ry="2.4" fill="url(#sgn)" transform="rotate(20 132.6 338.4)"/><ellipse cx="248.3" cy="231.9" rx="7.0" ry="4.7" fill="url(#sg)" transform="rotate(93 248.3 231.9)"/><ellipse cx="247.3" cy="238.8" rx="5.3" ry="3.7" fill="url(#sg)" transform="rotate(144 247.3 238.8)"/><ellipse cx="224.7" cy="227.0" rx="3.5" ry="3.4" fill="url(#sgn)" transform="rotate(29 224.7 227.0)"/><ellipse cx="209.9" cy="238.8" rx="3.1" ry="3.3" fill="url(#sg)" transform="rotate(70 209.9 238.8)"/><ellipse cx="237.5" cy="229.0" rx="1.7" ry="2.6" fill="url(#sgn)" transform="rotate(11 237.5 229.0)"/><ellipse cx="202.7" cy="256.0" rx="5.6" ry="4.8" fill="url(#sg)" transform="rotate(23 202.7 256.0)"/><ellipse cx="201.8" cy="258.7" rx="5.9" ry="4.5" fill="url(#sg)" transform="rotate(48 201.8 258.7)"/><ellipse cx="201.4" cy="260.9" rx="5.0" ry="5.4" fill="url(#sg)" transform="rotate(29 201.4 260.9)"/><ellipse cx="201.9" cy="262.8" rx="4.3" ry="6.2" fill="url(#sg)" transform="rotate(26 201.9 262.8)"/><ellipse cx="233.4" cy="248.3" rx="4.6" ry="3.5" fill="url(#sg)" transform="rotate(138 233.4 248.3)"/><ellipse cx="234.2" cy="249.6" rx="3.5" ry="4.6" fill="url(#sg)" transform="rotate(122 234.2 249.6)"/><ellipse cx="233.2" cy="251.1" rx="3.7" ry="4.4" fill="url(#sg)" transform="rotate(6 233.2 251.1)"/><ellipse cx="243.4" cy="260.5" rx="5.3" ry="9.3" fill="url(#sg)" transform="rotate(75 243.4 260.5)"/><ellipse cx="219.7" cy="266.4" rx="7.1" ry="5.7" fill="url(#sg)" transform="rotate(81 219.7 266.4)"/><ellipse cx="233.5" cy="257.5" rx="3.9" ry="4.1" fill="url(#sgn)" transform="rotate(80 233.5 257.5)"/><ellipse cx="208.9" cy="280.2" rx="5.5" ry="6.1" fill="url(#sg)" transform="rotate(16 208.9 280.2)"/><ellipse cx="232.5" cy="293.6" rx="6.2" ry="4.2" fill="url(#sg)" transform="rotate(153 232.5 293.6)"/><ellipse cx="265.1" cy="289.5" rx="8.7" ry="5.7" fill="url(#sg)" transform="rotate(28 265.1 289.5)"/><ellipse cx="311.0" cy="252.6" rx="5.0" ry="6.5" fill="url(#sgn)" transform="rotate(158 311.0 252.6)"/><ellipse cx="348.7" cy="263.8" rx="7.3" ry="5.2" fill="url(#sgn)" transform="rotate(120 348.7 263.8)"/><ellipse cx="348.3" cy="265.2" rx="6.3" ry="6.0" fill="url(#sgn)" transform="rotate(78 348.3 265.2)"/><ellipse cx="308.4" cy="229.0" rx="1.9" ry="2.7" fill="url(#sgn)" transform="rotate(92 308.4 229.0)"/><ellipse cx="317.3" cy="227.6" rx="1.8" ry="2.9" fill="url(#sgn)" transform="rotate(71 317.3 227.6)"/><ellipse cx="303.5" cy="238.8" rx="1.7" ry="2.6" fill="url(#sgd)" transform="rotate(114 303.5 238.8)"/><ellipse cx="255.2" cy="275.3" rx="1.8" ry="2.9" fill="url(#sgn)" transform="rotate(147 255.2 275.3)"/><ellipse cx="260.1" cy="276.3" rx="2.3" ry="2.0" fill="url(#sgn)" transform="rotate(58 260.1 276.3)"/><ellipse cx="269.0" cy="276.3" rx="2.0" ry="2.2" fill="url(#sgd)" transform="rotate(78 269.0 276.3)"/><ellipse cx="315.3" cy="304.9" rx="2.0" ry="3.3" fill="url(#sgd)" transform="rotate(47 315.3 304.9)"/><ellipse cx="289.7" cy="309.8" rx="1.9" ry="2.3" fill="url(#sgd)" transform="rotate(148 289.7 309.8)"/><ellipse cx="273.0" cy="304.9" rx="2.5" ry="1.8" fill="url(#sgd)" transform="rotate(77 273.0 304.9)"/><ellipse cx="346.9" cy="316.7" rx="3.1" ry="4.1" fill="url(#sgd)" transform="rotate(25 346.9 316.7)"/><ellipse cx="286.8" cy="327.5" rx="2.9" ry="2.8" fill="url(#sgn)" transform="rotate(148 286.8 327.5)"/><ellipse cx="307.1" cy="330.1" rx="5.2" ry="3.9" fill="url(#sg)" transform="rotate(23 307.1 330.1)"/><ellipse cx="318.3" cy="329.5" rx="2.5" ry="3.3" fill="url(#sgn)" transform="rotate(5 318.3 329.5)"/><ellipse cx="247.3" cy="321.2" rx="3.0" ry="2.2" fill="url(#sgd)" transform="rotate(102 247.3 321.2)"/><ellipse cx="242.4" cy="341.3" rx="3.0" ry="4.9" fill="url(#sg)" transform="rotate(141 242.4 341.3)"/><ellipse cx="277.5" cy="346.3" rx="4.1" ry="2.9" fill="url(#sgn)" transform="rotate(19 277.5 346.3)"/><ellipse cx="290.7" cy="348.6" rx="2.2" ry="3.8" fill="url(#sgn)" transform="rotate(2 290.7 348.6)"/><ellipse cx="284.8" cy="341.3" rx="1.9" ry="2.3" fill="url(#sgn)" transform="rotate(91 284.8 341.3)"/><ellipse cx="269.0" cy="381.7" rx="5.1" ry="5.1" fill="url(#sg)" transform="rotate(39 269.0 381.7)"/><ellipse cx="255.2" cy="388.6" rx="1.8" ry="2.9" fill="url(#sgn)" transform="rotate(83 255.2 388.6)"/><ellipse cx="213.8" cy="302.9" rx="1.7" ry="2.7" fill="url(#sgn)" transform="rotate(170 213.8 302.9)"/><ellipse cx="362.6" cy="346.3" rx="1.9" ry="2.7" fill="url(#sgn)" transform="rotate(38 362.6 346.3)"/><ellipse cx="355.7" cy="339.4" rx="2.6" ry="1.7" fill="url(#sgd)" transform="rotate(81 355.7 339.4)"/><ellipse cx="335.1" cy="261.5" rx="1.9" ry="2.3" fill="url(#sgn)" transform="rotate(131 335.1 261.5)"/><ellipse cx="337.0" cy="257.5" rx="2.5" ry="1.8" fill="url(#sgn)" transform="rotate(154 337.0 257.5)"/></g>
<rect x="307.70" y="373.40" width="47.10" height="5.50" fill="#fff"/>
</g>
<g clip-path="url(#c2)">
<rect x="374.10" y="61.00" width="329.60" height="328.60" fill="#132831"/>
<rect x="374.1" y="61" width="329.6" height="328.6" filter="url(#n2)"/>
<ellipse cx="410.0" cy="120.0" rx="50.0" ry="50.0" fill="url(#hz)" opacity="0.5"/>
<ellipse cx="400.0" cy="330.0" rx="45.0" ry="45.0" fill="url(#hz)" opacity="0.5"/>
<ellipse cx="430.5" cy="164.5" rx="8.0" ry="8.0" fill="url(#bl)" opacity="1"/>
<ellipse cx="541.0" cy="318.0" rx="12.0" ry="12.0" fill="url(#bl)" opacity="0.9"/>
<ellipse cx="635.6" cy="356.0" rx="9.0" ry="9.0" fill="url(#bl)" opacity="0.5"/>
<ellipse cx="592.0" cy="340.0" rx="9.0" ry="9.0" fill="url(#bl)" opacity="0.35"/>
<ellipse cx="580.0" cy="165.0" rx="8.0" ry="8.0" fill="url(#bl)" opacity="0.6"/>
<path d="M458.0,59.0 L457.3,62.9 L456.1,66.8 L455.7,70.8 L454.8,74.7 L454.6,78.7 L453.9,82.7 L454.4,86.7 L454.0,90.7 L454.3,94.7 L454.2,98.7 L454.6,102.7 L454.2,106.7 L454.4,110.7 L454.7,114.7 L455.1,118.7 L455.9,122.6 L455.4,126.7 L456.2,130.6 L456.7,134.6 L456.5,138.0" stroke="#379ccc" stroke-width="9.8" opacity="0.26" fill="none" stroke-linecap="round" stroke-linejoin="round" filter="url(#b2)"/><g filter="url(#b1)" fill="none" stroke-linecap="round" stroke-linejoin="round"><path d="M458.0,59.0 L457.3,62.9 L456.1,66.8 L455.7,70.8 L454.8,74.7 L454.6,78.7 L453.9,82.7 L454.4,86.7 L454.0,90.7 L454.3,94.7 L454.2,98.7 L454.6,102.7 L454.2,106.7 L454.4,110.7 L454.7,114.7 L455.1,118.7 L455.9,122.6 L455.4,126.7 L456.2,130.6 L456.7,134.6 L456.5,138.0" stroke="#379ccc" stroke-width="5.8" opacity="0.92"/><path d="M458.0,59.0 L457.3,62.9 L456.1,66.8 L455.7,70.8 L454.8,74.7 L454.6,78.7 L453.9,82.7 L454.4,86.7 L454.0,90.7 L454.3,94.7 L454.2,98.7 L454.6,102.7 L454.2,106.7 L454.4,110.7 L454.7,114.7 L455.1,118.7 L455.9,122.6 L455.4,126.7 L456.2,130.6 L456.7,134.6 L456.5,138.0" stroke="#6cccee" stroke-width="2.9" opacity="0.85"/><path d="M458.0,59.0 L457.3,62.9 M455.1,118.7 L455.9,122.6 L455.4,126.7 L456.2,130.6" stroke="#a8ecff" stroke-width="2.4" opacity="0.50"/></g>
<path d="M456.5,140.0 L452.6,140.7 L448.6,141.3 L444.7,142.1 L440.6,141.6 L436.7,142.8 L432.8,143.8 L428.8,144.2 L424.8,144.6 L420.9,145.1 L417.1,146.6 L413.3,147.8 L409.5,149.1 L405.4,149.5 L401.9,151.6 L398.3,153.3 L394.4,154.3 L391.0,156.4 L387.5,158.4 L384.1,160.5 L381.1,163.3 L377.3,164.8 L373.8,166.7 L372.0,168.5" stroke="#379ccc" stroke-width="9.5" opacity="0.26" fill="none" stroke-linecap="round" stroke-linejoin="round" filter="url(#b2)"/><g filter="url(#b1)" fill="none" stroke-linecap="round" stroke-linejoin="round"><path d="M456.5,140.0 L452.6,140.7 L448.6,141.3 L444.7,142.1 L440.6,141.6 L436.7,142.8 L432.8,143.8 L428.8,144.2 L424.8,144.6 L420.9,145.1 L417.1,146.6 L413.3,147.8 L409.5,149.1 L405.4,149.5 L401.9,151.6 L398.3,153.3 L394.4,154.3 L391.0,156.4 L387.5,158.4 L384.1,160.5 L381.1,163.3 L377.3,164.8 L373.8,166.7 L372.0,168.5" stroke="#379ccc" stroke-width="5.5" opacity="0.92"/><path d="M456.5,140.0 L452.6,140.7 L448.6,141.3 L444.7,142.1 L440.6,141.6 L436.7,142.8 L432.8,143.8 L428.8,144.2 L424.8,144.6 L420.9,145.1 L417.1,146.6 L413.3,147.8 L409.5,149.1 L405.4,149.5 L401.9,151.6 L398.3,153.3 L394.4,154.3 L391.0,156.4 L387.5,158.4 L384.1,160.5 L381.1,163.3 L377.3,164.8 L373.8,166.7 L372.0,168.5" stroke="#6cccee" stroke-width="2.8" opacity="0.85"/><path d="M456.5,140.0 L452.6,140.7 M440.6,141.6 L436.7,142.8 L432.8,143.8" stroke="#a8ecff" stroke-width="2.3" opacity="0.50"/></g>
<path d="M456.5,140.0 L459.6,142.6 L462.9,144.7 L466.4,146.8 L469.5,149.3 L472.9,151.4 L476.1,153.8 L479.8,155.5 L482.6,158.5 L486.1,160.5 L489.4,162.8 L492.8,164.9 L496.2,166.9 L499.3,169.5 L503.3,170.6 L506.7,172.7 L510.5,174.1 L513.8,176.4 L517.6,177.8 L521.6,178.4 L525.1,180.6 L529.0,181.6 L532.7,183.2 L536.4,184.6 L540.3,185.6 L544.2,186.6 L548.0,187.8 L551.8,188.9 L555.4,190.9 L559.3,191.9 L562.6,194.4 L566.7,195.1 L569.9,197.6 L573.9,198.5 L577.4,200.4 L580.9,202.4 L584.8,203.4 L588.6,204.7 L592.2,206.4 L595.7,208.5 L599.4,210.0 L603.4,210.8 L607.1,212.3 L610.7,214.1 L614.4,215.7 L618.0,217.4 L621.5,219.4 L625.1,221.1 L628.8,222.6 L632.6,223.9 L636.3,225.3 L640.0,226.9 L643.9,227.7 L647.6,229.4 L651.4,230.6 L655.3,231.4 L659.0,233.0 L662.9,234.0 L666.8,235.1 L670.3,237.1 L674.3,237.9 L678.1,239.1 L681.5,241.3 L685.2,242.8 L689.1,243.8 L692.7,245.7 L696.0,248.0 L699.7,249.6 L703.1,251.7 L706.0,253.5" stroke="#379ccc" stroke-width="9.8" opacity="0.26" fill="none" stroke-linecap="round" stroke-linejoin="round" filter="url(#b2)"/><g filter="url(#b1)" fill="none" stroke-linecap="round" stroke-linejoin="round"><path d="M456.5,140.0 L459.6,142.6 L462.9,144.7 L466.4,146.8 L469.5,149.3 L472.9,151.4 L476.1,153.8 L479.8,155.5 L482.6,158.5 L486.1,160.5 L489.4,162.8 L492.8,164.9 L496.2,166.9 L499.3,169.5 L503.3,170.6 L506.7,172.7 L510.5,174.1 L513.8,176.4 L517.6,177.8 L521.6,178.4 L525.1,180.6 L529.0,181.6 L532.7,183.2 L536.4,184.6 L540.3,185.6 L544.2,186.6 L548.0,187.8 L551.8,188.9 L555.4,190.9 L559.3,191.9 L562.6,194.4 L566.7,195.1 L569.9,197.6 L573.9,198.5 L577.4,200.4 L580.9,202.4 L584.8,203.4 L588.6,204.7 L592.2,206.4 L595.7,208.5 L599.4,210.0 L603.4,210.8 L607.1,212.3 L610.7,214.1 L614.4,215.7 L618.0,217.4 L621.5,219.4 L625.1,221.1 L628.8,222.6 L632.6,223.9 L636.3,225.3 L640.0,226.9 L643.9,227.7 L647.6,229.4 L651.4,230.6 L655.3,231.4 L659.0,233.0 L662.9,234.0 L666.8,235.1 L670.3,237.1 L674.3,237.9 L678.1,239.1 L681.5,241.3 L685.2,242.8 L689.1,243.8 L692.7,245.7 L696.0,248.0 L699.7,249.6 L703.1,251.7 L706.0,253.5" stroke="#379ccc" stroke-width="5.8" opacity="0.92"/><path d="M456.5,140.0 L459.6,142.6 L462.9,144.7 L466.4,146.8 L469.5,149.3 L472.9,151.4 L476.1,153.8 L479.8,155.5 L482.6,158.5 L486.1,160.5 L489.4,162.8 L492.8,164.9 L496.2,166.9 L499.3,169.5 L503.3,170.6 L506.7,172.7 L510.5,174.1 L513.8,176.4 L517.6,177.8 L521.6,178.4 L525.1,180.6 L529.0,181.6 L532.7,183.2 L536.4,184.6 L540.3,185.6 L544.2,186.6 L548.0,187.8 L551.8,188.9 L555.4,190.9 L559.3,191.9 L562.6,194.4 L566.7,195.1 L569.9,197.6 L573.9,198.5 L577.4,200.4 L580.9,202.4 L584.8,203.4 L588.6,204.7 L592.2,206.4 L595.7,208.5 L599.4,210.0 L603.4,210.8 L607.1,212.3 L610.7,214.1 L614.4,215.7 L618.0,217.4 L621.5,219.4 L625.1,221.1 L628.8,222.6 L632.6,223.9 L636.3,225.3 L640.0,226.9 L643.9,227.7 L647.6,229.4 L651.4,230.6 L655.3,231.4 L659.0,233.0 L662.9,234.0 L666.8,235.1 L670.3,237.1 L674.3,237.9 L678.1,239.1 L681.5,241.3 L685.2,242.8 L689.1,243.8 L692.7,245.7 L696.0,248.0 L699.7,249.6 L703.1,251.7 L706.0,253.5" stroke="#6cccee" stroke-width="2.9" opacity="0.85"/><path d="M486.1,160.5 L489.4,162.8 L492.8,164.9 L496.2,166.9 M555.4,190.9 L559.3,191.9 M592.2,206.4 L595.7,208.5 L599.4,210.0 M692.7,245.7 L696.0,248.0 M699.7,249.6 L703.1,251.7" stroke="#a8ecff" stroke-width="2.4" opacity="0.50"/></g>
<path d="M539.0,68.0 L543.0,68.3 L546.9,69.1 L551.0,68.7 L554.9,69.3 L558.9,69.8 L563.0,69.0 L567.0,69.7 L571.0,69.8 L575.0,69.7 L578.9,69.1 L582.9,68.2 L586.9,68.2 L590.9,67.5 L594.9,68.1 L598.9,67.3 L602.9,67.2 L606.9,67.7 L610.8,68.7 L614.5,70.3 L618.1,72.1 L621.6,74.1 L625.1,76.1 L628.3,78.5 L632.2,79.6 L635.8,81.5 L639.3,83.4 L642.9,85.1 L646.2,87.5 L650.0,88.9 L653.5,90.7 L657.2,92.4 L660.5,94.7 L664.3,96.1 L667.9,97.8 L671.5,99.4 L675.2,101.0 L679.0,102.3 L682.8,103.7 L686.7,104.4 L690.7,105.2 L694.5,106.1 L698.4,107.3 L702.4,107.9 L706.0,109.0" stroke="#1c74bc" stroke-width="7.8" opacity="0.22" fill="none" stroke-linecap="round" stroke-linejoin="round" filter="url(#b2)"/><g filter="url(#b1)" fill="none" stroke-linecap="round" stroke-linejoin="round"><path d="M539.0,68.0 L543.0,68.3 L546.9,69.1 L551.0,68.7 L554.9,69.3 L558.9,69.8 L563.0,69.0 L567.0,69.7 L571.0,69.8 L575.0,69.7 L578.9,69.1 L582.9,68.2 L586.9,68.2 L590.9,67.5 L594.9,68.1 L598.9,67.3 L602.9,67.2 L606.9,67.7 L610.8,68.7 L614.5,70.3 L618.1,72.1 L621.6,74.1 L625.1,76.1 L628.3,78.5 L632.2,79.6 L635.8,81.5 L639.3,83.4 L642.9,85.1 L646.2,87.5 L650.0,88.9 L653.5,90.7 L657.2,92.4 L660.5,94.7 L664.3,96.1 L667.9,97.8 L671.5,99.4 L675.2,101.0 L679.0,102.3 L682.8,103.7 L686.7,104.4 L690.7,105.2 L694.5,106.1 L698.4,107.3 L702.4,107.9 L706.0,109.0" stroke="#1c74bc" stroke-width="3.8" opacity="0.78"/><path d="M539.0,68.0 L543.0,68.3 L546.9,69.1 L551.0,68.7 L554.9,69.3 L558.9,69.8 L563.0,69.0 L567.0,69.7 L571.0,69.8 L575.0,69.7 L578.9,69.1 L582.9,68.2 L586.9,68.2 L590.9,67.5 L594.9,68.1 L598.9,67.3 L602.9,67.2 L606.9,67.7 L610.8,68.7 L614.5,70.3 L618.1,72.1 L621.6,74.1 L625.1,76.1 L628.3,78.5 L632.2,79.6 L635.8,81.5 L639.3,83.4 L642.9,85.1 L646.2,87.5 L650.0,88.9 L653.5,90.7 L657.2,92.4 L660.5,94.7 L664.3,96.1 L667.9,97.8 L671.5,99.4 L675.2,101.0 L679.0,102.3 L682.8,103.7 L686.7,104.4 L690.7,105.2 L694.5,106.1 L698.4,107.3 L702.4,107.9 L706.0,109.0" stroke="#3aa8e0" stroke-width="1.9" opacity="0.72"/><path d="M539.0,68.0 L543.0,68.3 M543.0,68.3 L546.9,69.1 L551.0,68.7 M602.9,67.2 L606.9,67.7 M606.9,67.7 L610.8,68.7 L614.5,70.3 L618.1,72.1 M621.6,74.1 L625.1,76.1 L628.3,78.5 L632.2,79.6 M639.3,83.4 L642.9,85.1 L646.2,87.5 L650.0,88.9 M650.0,88.9 L653.5,90.7 M657.2,92.4 L660.5,94.7" stroke="#a8ecff" stroke-width="1.6" opacity="0.42"/></g>
<path d="M372.0,278.0 L374.6,281.0 L376.7,284.5 L379.4,287.5 L381.3,291.0 L383.3,294.5 L385.6,297.8 L388.2,300.8 L390.1,304.4 L392.3,307.7 L395.0,310.7 L397.2,314.0 L399.2,317.5 L400.9,321.2 L402.9,324.7 L405.4,327.8 L406.9,331.6 L409.0,335.0 L411.1,338.4 L413.0,341.9 L415.4,345.2 L416.9,348.9 L418.5,352.6 L421.3,355.6 L422.8,359.3 L425.1,362.7 L426.8,366.3 L429.2,369.5 L431.0,373.1 L433.4,376.3 L435.7,379.6 L437.9,382.9 L440.0,386.3 L441.8,390.0 L443.0,391.0" stroke="#379ccc" stroke-width="8.0" opacity="0.26" fill="none" stroke-linecap="round" stroke-linejoin="round" filter="url(#b2)"/><g filter="url(#b1)" fill="none" stroke-linecap="round" stroke-linejoin="round"><path d="M372.0,278.0 L374.6,281.0 L376.7,284.5 L379.4,287.5 L381.3,291.0 L383.3,294.5 L385.6,297.8 L388.2,300.8 L390.1,304.4 L392.3,307.7 L395.0,310.7 L397.2,314.0 L399.2,317.5 L400.9,321.2 L402.9,324.7 L405.4,327.8 L406.9,331.6 L409.0,335.0 L411.1,338.4 L413.0,341.9 L415.4,345.2 L416.9,348.9 L418.5,352.6 L421.3,355.6 L422.8,359.3 L425.1,362.7 L426.8,366.3 L429.2,369.5 L431.0,373.1 L433.4,376.3 L435.7,379.6 L437.9,382.9 L440.0,386.3 L441.8,390.0 L443.0,391.0" stroke="#379ccc" stroke-width="4.0" opacity="0.92"/><path d="M372.0,278.0 L374.6,281.0 L376.7,284.5 L379.4,287.5 L381.3,291.0 L383.3,294.5 L385.6,297.8 L388.2,300.8 L390.1,304.4 L392.3,307.7 L395.0,310.7 L397.2,314.0 L399.2,317.5 L400.9,321.2 L402.9,324.7 L405.4,327.8 L406.9,331.6 L409.0,335.0 L411.1,338.4 L413.0,341.9 L415.4,345.2 L416.9,348.9 L418.5,352.6 L421.3,355.6 L422.8,359.3 L425.1,362.7 L426.8,366.3 L429.2,369.5 L431.0,373.1 L433.4,376.3 L435.7,379.6 L437.9,382.9 L440.0,386.3 L441.8,390.0 L443.0,391.0" stroke="#6cccee" stroke-width="2.0" opacity="0.85"/><path d="M372.0,278.0 L374.6,281.0 L376.7,284.5 M381.3,291.0 L383.3,294.5 L385.6,297.8 M390.1,304.4 L392.3,307.7 M411.1,338.4 L413.0,341.9 L415.4,345.2 M416.9,348.9 L418.5,352.6 M422.8,359.3 L425.1,362.7 L426.8,366.3 M431.0,373.1 L433.4,376.3 L435.7,379.6 M437.9,382.9 L440.0,386.3 L441.8,390.0 L443.0,391.0" stroke="#a8ecff" stroke-width="1.7" opacity="0.50"/></g>
<ellipse cx="604.0" cy="218.0" rx="14.0" ry="12.0" fill="url(#lb)" opacity="1"/>
<ellipse cx="612.0" cy="230.0" rx="9.0" ry="8.0" fill="url(#lb)" opacity="0.9"/>
<g filter="url(#sp)"><circle cx="422.9" cy="263.7" r="1.5" fill="url(#sgd)"/><circle cx="574.6" cy="187.4" r="2.0" fill="url(#sgd)"/><circle cx="388.3" cy="235.4" r="2.0" fill="url(#sgd)"/><circle cx="664.2" cy="302.9" r="1.8" fill="url(#sgd)"/><circle cx="416.3" cy="327.6" r="2.1" fill="url(#sgd)"/><circle cx="519.8" cy="225.8" r="1.6" fill="url(#sgd)"/><circle cx="422.0" cy="265.3" r="2.1" fill="url(#sgd)"/><circle cx="455.3" cy="91.3" r="1.7" fill="url(#sgd)"/><circle cx="542.3" cy="307.0" r="1.8" fill="url(#sgd)"/><circle cx="673.5" cy="115.9" r="1.5" fill="url(#sgd)"/><circle cx="582.4" cy="203.4" r="2.0" fill="url(#sgd)"/><circle cx="594.7" cy="353.4" r="2.3" fill="url(#sgd)"/><circle cx="529.1" cy="372.7" r="1.8" fill="url(#sgd)"/><circle cx="660.6" cy="285.8" r="1.8" fill="url(#sgd)"/><circle cx="572.1" cy="362.0" r="2.0" fill="url(#sgd)"/><circle cx="695.4" cy="234.6" r="1.8" fill="url(#sgn)"/><circle cx="685.5" cy="117.6" r="1.4" fill="url(#sgn)"/><circle cx="665.3" cy="187.5" r="1.6" fill="url(#sgd)"/><circle cx="684.2" cy="131.1" r="1.8" fill="url(#sgd)"/><circle cx="446.9" cy="197.5" r="1.5" fill="url(#sgd)"/><circle cx="449.9" cy="87.5" r="1.8" fill="url(#sgd)"/><circle cx="413.2" cy="110.5" r="1.8" fill="url(#sgd)"/><circle cx="614.3" cy="197.3" r="1.6" fill="url(#sgd)"/><circle cx="472.0" cy="305.5" r="1.5" fill="url(#sgd)"/><circle cx="640.2" cy="334.0" r="1.9" fill="url(#sgn)"/><circle cx="586.0" cy="135.6" r="1.4" fill="url(#sgd)"/><circle cx="634.7" cy="189.2" r="2.3" fill="url(#sgn)"/><circle cx="677.4" cy="215.4" r="1.3" fill="url(#sgd)"/><circle cx="446.2" cy="274.5" r="2.1" fill="url(#sgn)"/><circle cx="606.7" cy="376.7" r="2.1" fill="url(#sgd)"/><circle cx="650.1" cy="151.2" r="2.2" fill="url(#sgd)"/><circle cx="660.1" cy="80.9" r="1.5" fill="url(#sgn)"/><circle cx="420.9" cy="209.5" r="2.0" fill="url(#sgd)"/><circle cx="664.2" cy="375.3" r="1.7" fill="url(#sgd)"/><circle cx="675.8" cy="210.2" r="1.6" fill="url(#sgd)"/><circle cx="377.0" cy="252.7" r="1.6" fill="url(#sgd)"/><circle cx="679.0" cy="220.4" r="2.4" fill="url(#sgd)"/><circle cx="624.2" cy="309.3" r="2.5" fill="url(#sgd)"/><circle cx="541.2" cy="244.0" r="2.0" fill="url(#sgd)"/><circle cx="464.1" cy="358.0" r="2.4" fill="url(#sgd)"/><circle cx="690.5" cy="243.1" r="1.4" fill="url(#sgd)"/><circle cx="408.6" cy="308.0" r="2.1" fill="url(#sgd)"/><circle cx="424.3" cy="83.2" r="1.5" fill="url(#sgn)"/><circle cx="449.2" cy="351.8" r="1.5" fill="url(#sgd)"/><circle cx="529.8" cy="178.9" r="2.5" fill="url(#sgd)"/><circle cx="533.6" cy="128.5" r="1.4" fill="url(#sgd)"/><circle cx="485.9" cy="221.2" r="2.1" fill="url(#sgd)"/><circle cx="392.0" cy="287.2" r="2.5" fill="url(#sgd)"/><circle cx="523.2" cy="388.2" r="2.3" fill="url(#sgn)"/><circle cx="548.6" cy="380.7" r="1.4" fill="url(#sgd)"/><circle cx="653.8" cy="189.5" r="1.8" fill="url(#sgd)"/><circle cx="499.3" cy="328.5" r="2.5" fill="url(#sgd)"/><circle cx="480.4" cy="325.5" r="2.2" fill="url(#sgn)"/><circle cx="599.0" cy="362.0" r="2.3" fill="url(#sgd)"/><circle cx="467.6" cy="89.0" r="2.3" fill="url(#sgn)"/><circle cx="668.2" cy="148.2" r="2.2" fill="url(#sgn)"/><circle cx="442.2" cy="68.8" r="1.5" fill="url(#sgd)"/><circle cx="598.4" cy="331.2" r="2.3" fill="url(#sgd)"/><circle cx="696.9" cy="380.9" r="1.8" fill="url(#sgn)"/><circle cx="611.3" cy="141.6" r="2.0" fill="url(#sgd)"/><circle cx="505.9" cy="328.5" r="1.3" fill="url(#sgd)"/><circle cx="517.8" cy="154.1" r="1.4" fill="url(#sgd)"/><circle cx="484.1" cy="93.0" r="1.8" fill="url(#sgd)"/><circle cx="400.3" cy="319.3" r="1.4" fill="url(#sgd)"/><circle cx="495.0" cy="343.1" r="2.4" fill="url(#sgd)"/><circle cx="471.1" cy="167.8" r="2.3" fill="url(#sgd)"/><circle cx="583.6" cy="299.2" r="1.5" fill="url(#sgd)"/><circle cx="688.9" cy="170.3" r="2.3" fill="url(#sgd)"/><circle cx="378.7" cy="226.3" r="1.6" fill="url(#sgd)"/><circle cx="628.1" cy="73.8" r="1.9" fill="url(#sgd)"/><ellipse cx="469.6" cy="114.2" rx="6.3" ry="4.2" fill="url(#sgn)" transform="rotate(14 469.6 114.2)"/><ellipse cx="485.4" cy="120.1" rx="4.5" ry="7.2" fill="url(#sgn)" transform="rotate(92 485.4 120.1)"/><ellipse cx="470.6" cy="131.0" rx="2.7" ry="2.0" fill="url(#sgn)" transform="rotate(171 470.6 131.0)"/><ellipse cx="523.8" cy="99.4" rx="5.3" ry="3.8" fill="url(#sg)" transform="rotate(64 523.8 99.4)"/><ellipse cx="510.0" cy="114.2" rx="4.2" ry="3.8" fill="url(#sgn)" transform="rotate(155 510.0 114.2)"/><ellipse cx="536.6" cy="116.2" rx="2.2" ry="3.7" fill="url(#sgn)" transform="rotate(174 536.6 116.2)"/><ellipse cx="514.0" cy="94.5" rx="1.7" ry="2.5" fill="url(#sgd)" transform="rotate(110 514.0 94.5)"/><ellipse cx="503.1" cy="131.0" rx="6.7" ry="5.9" fill="url(#sgn)" transform="rotate(130 503.1 131.0)"/><ellipse cx="500.2" cy="140.8" rx="2.8" ry="1.9" fill="url(#sgn)" transform="rotate(139 500.2 140.8)"/><ellipse cx="479.5" cy="139.9" rx="3.1" ry="2.1" fill="url(#sgd)" transform="rotate(128 479.5 139.9)"/><ellipse cx="500.2" cy="150.7" rx="3.5" ry="4.5" fill="url(#sgn)" transform="rotate(9 500.2 150.7)"/><ellipse cx="508.1" cy="151.7" rx="2.7" ry="1.9" fill="url(#sgn)" transform="rotate(93 508.1 151.7)"/><ellipse cx="514.8" cy="163.9" rx="9.2" ry="10.4" fill="url(#sg)" transform="rotate(134 514.8 163.9)"/><ellipse cx="513.6" cy="164.5" rx="8.5" ry="11.3" fill="url(#sg)" transform="rotate(45 513.6 164.5)"/><ellipse cx="379.9" cy="181.3" rx="3.7" ry="4.4" fill="url(#sgn)" transform="rotate(34 379.9 181.3)"/><ellipse cx="377.0" cy="190.1" rx="3.9" ry="3.8" fill="url(#sg)" transform="rotate(92 377.0 190.1)"/><ellipse cx="388.8" cy="190.1" rx="3.2" ry="2.1" fill="url(#sgd)" transform="rotate(172 388.8 190.1)"/><ellipse cx="419.3" cy="173.4" rx="2.4" ry="2.2" fill="url(#sgn)" transform="rotate(114 419.3 173.4)"/><ellipse cx="428.2" cy="184.7" rx="6.2" ry="4.3" fill="url(#sg)" transform="rotate(93 428.2 184.7)"/><ellipse cx="430.6" cy="183.9" rx="6.4" ry="4.2" fill="url(#sg)" transform="rotate(114 430.6 183.9)"/><ellipse cx="427.8" cy="190.5" rx="3.4" ry="2.8" fill="url(#sgn)" transform="rotate(118 427.8 190.5)"/><ellipse cx="429.3" cy="189.8" rx="2.7" ry="3.5" fill="url(#sgn)" transform="rotate(127 429.3 189.8)"/><ellipse cx="430.5" cy="190.6" rx="2.9" ry="3.3" fill="url(#sgn)" transform="rotate(116 430.5 190.6)"/><ellipse cx="461.2" cy="184.1" rx="6.5" ry="6.1" fill="url(#sg)" transform="rotate(142 461.2 184.1)"/><ellipse cx="462.7" cy="184.2" rx="5.4" ry="7.3" fill="url(#sg)" transform="rotate(83 462.7 184.2)"/><ellipse cx="411.3" cy="198.5" rx="4.1" ry="2.9" fill="url(#sg)" transform="rotate(157 411.3 198.5)"/><ellipse cx="412.3" cy="198.6" rx="3.1" ry="3.8" fill="url(#sg)" transform="rotate(129 412.3 198.6)"/><ellipse cx="413.7" cy="198.0" rx="3.6" ry="3.3" fill="url(#sg)" transform="rotate(104 413.7 198.0)"/><ellipse cx="440.2" cy="197.4" rx="4.7" ry="4.6" fill="url(#sgn)" transform="rotate(175 440.2 197.4)"/><ellipse cx="441.8" cy="197.1" rx="5.4" ry="4.0" fill="url(#sgn)" transform="rotate(2 441.8 197.1)"/><ellipse cx="470.6" cy="199.0" rx="6.9" ry="4.7" fill="url(#sgn)" transform="rotate(48 470.6 199.0)"/><ellipse cx="502.2" cy="198.9" rx="10.1" ry="9.4" fill="url(#sg)" transform="rotate(12 502.2 198.9)"/><ellipse cx="499.3" cy="200.2" rx="11.6" ry="8.2" fill="url(#sg)" transform="rotate(27 499.3 200.2)"/><ellipse cx="503.1" cy="187.2" rx="3.9" ry="3.0" fill="url(#sgn)" transform="rotate(34 503.1 187.2)"/><ellipse cx="535.2" cy="208.3" rx="4.4" ry="6.0" fill="url(#sg)" transform="rotate(15 535.2 208.3)"/><ellipse cx="536.3" cy="209.3" rx="4.0" ry="6.8" fill="url(#sg)" transform="rotate(92 536.3 209.3)"/><ellipse cx="512.0" cy="209.8" rx="2.7" ry="3.1" fill="url(#sgn)" transform="rotate(63 512.0 209.8)"/><ellipse cx="460.7" cy="214.8" rx="6.2" ry="5.3" fill="url(#sgn)" transform="rotate(21 460.7 214.8)"/><ellipse cx="447.9" cy="208.8" rx="3.1" ry="4.8" fill="url(#sgd)" transform="rotate(17 447.9 208.8)"/><ellipse cx="384.0" cy="222.2" rx="4.4" ry="7.6" fill="url(#sg)" transform="rotate(65 384.0 222.2)"/><ellipse cx="385.1" cy="222.7" rx="6.4" ry="5.1" fill="url(#sg)" transform="rotate(133 385.1 222.7)"/><ellipse cx="377.0" cy="214.8" rx="2.5" ry="2.1" fill="url(#sgn)" transform="rotate(98 377.0 214.8)"/><ellipse cx="472.6" cy="79.7" rx="3.7" ry="3.4" fill="url(#sgd)" transform="rotate(63 472.6 79.7)"/><ellipse cx="464.7" cy="75.8" rx="1.7" ry="2.5" fill="url(#sgd)" transform="rotate(9 464.7 75.8)"/><ellipse cx="442.0" cy="72.8" rx="1.9" ry="3.4" fill="url(#sgd)" transform="rotate(157 442.0 72.8)"/><ellipse cx="513.0" cy="80.0" rx="2.1" ry="2.6" fill="url(#sgd)" transform="rotate(125 513.0 80.0)"/><ellipse cx="514.3" cy="79.7" rx="2.6" ry="2.0" fill="url(#sgd)" transform="rotate(11 514.3 79.7)"/><ellipse cx="516.1" cy="80.0" rx="2.7" ry="2.0" fill="url(#sgd)" transform="rotate(39 516.1 80.0)"/><ellipse cx="517.4" cy="79.4" rx="2.5" ry="2.1" fill="url(#sgd)" transform="rotate(80 517.4 79.4)"/><ellipse cx="519.0" cy="79.2" rx="2.6" ry="2.0" fill="url(#sgd)" transform="rotate(32 519.0 79.2)"/><ellipse cx="496.2" cy="222.6" rx="2.9" ry="2.8" fill="url(#sgn)" transform="rotate(100 496.2 222.6)"/><ellipse cx="580.4" cy="64.9" rx="4.0" ry="4.0" fill="url(#sgn)" transform="rotate(83 580.4 64.9)"/><ellipse cx="591.2" cy="78.7" rx="5.8" ry="8.5" fill="url(#sg)" transform="rotate(87 591.2 78.7)"/><ellipse cx="571.8" cy="85.9" rx="5.5" ry="6.0" fill="url(#sg)" transform="rotate(4 571.8 85.9)"/><ellipse cx="574.0" cy="86.7" rx="6.2" ry="5.3" fill="url(#sg)" transform="rotate(64 574.0 86.7)"/><ellipse cx="561.7" cy="97.5" rx="1.8" ry="3.0" fill="url(#sgn)" transform="rotate(41 561.7 97.5)"/><ellipse cx="551.8" cy="103.4" rx="3.0" ry="4.3" fill="url(#sgd)" transform="rotate(116 551.8 103.4)"/><ellipse cx="550.8" cy="110.3" rx="2.7" ry="2.4" fill="url(#sgd)" transform="rotate(130 550.8 110.3)"/><ellipse cx="572.5" cy="119.2" rx="3.9" ry="2.6" fill="url(#sg)" transform="rotate(8 572.5 119.2)"/><ellipse cx="561.6" cy="116.9" rx="2.0" ry="2.2" fill="url(#sgd)" transform="rotate(64 561.6 116.9)"/><ellipse cx="562.4" cy="116.9" rx="2.4" ry="1.8" fill="url(#sgd)" transform="rotate(159 562.4 116.9)"/><ellipse cx="563.7" cy="117.0" rx="2.0" ry="2.2" fill="url(#sgd)" transform="rotate(134 563.7 117.0)"/><ellipse cx="564.8" cy="116.9" rx="2.0" ry="2.2" fill="url(#sgd)" transform="rotate(41 564.8 116.9)"/><ellipse cx="565.7" cy="117.4" rx="1.8" ry="2.4" fill="url(#sgd)" transform="rotate(25 565.7 117.4)"/><ellipse cx="641.5" cy="74.8" rx="1.7" ry="3.0" fill="url(#sgn)" transform="rotate(59 641.5 74.8)"/><ellipse cx="646.4" cy="68.9" rx="1.7" ry="2.6" fill="url(#sgn)" transform="rotate(6 646.4 68.9)"/><ellipse cx="642.5" cy="92.5" rx="4.0" ry="4.0" fill="url(#sgn)" transform="rotate(118 642.5 92.5)"/><ellipse cx="659.3" cy="89.6" rx="2.2" ry="2.3" fill="url(#sgn)" transform="rotate(137 659.3 89.6)"/><ellipse cx="640.5" cy="108.3" rx="3.7" ry="3.2" fill="url(#sgn)" transform="rotate(54 640.5 108.3)"/><ellipse cx="621.8" cy="121.1" rx="2.3" ry="1.9" fill="url(#sgd)" transform="rotate(53 621.8 121.1)"/><ellipse cx="627.7" cy="142.8" rx="4.3" ry="3.4" fill="url(#sg)" transform="rotate(111 627.7 142.8)"/><ellipse cx="655.3" cy="145.8" rx="3.0" ry="3.2" fill="url(#sgd)" transform="rotate(5 655.3 145.8)"/><ellipse cx="637.6" cy="151.7" rx="4.2" ry="3.8" fill="url(#sgn)" transform="rotate(13 637.6 151.7)"/><ellipse cx="695.7" cy="151.3" rx="3.4" ry="2.4" fill="url(#sgn)" transform="rotate(134 695.7 151.3)"/><ellipse cx="569.6" cy="135.9" rx="4.8" ry="4.4" fill="url(#sgn)" transform="rotate(24 569.6 135.9)"/><ellipse cx="568.6" cy="151.7" rx="3.1" ry="2.6" fill="url(#sgn)" transform="rotate(122 568.6 151.7)"/><ellipse cx="589.3" cy="147.7" rx="2.7" ry="3.1" fill="url(#sgn)" transform="rotate(132 589.3 147.7)"/><ellipse cx="601.3" cy="150.0" rx="4.0" ry="4.6" fill="url(#sg)" transform="rotate(176 601.3 150.0)"/><ellipse cx="603.3" cy="150.5" rx="3.3" ry="5.7" fill="url(#sg)" transform="rotate(175 603.3 150.5)"/><ellipse cx="601.7" cy="133.9" rx="2.5" ry="2.7" fill="url(#sgd)" transform="rotate(26 601.7 133.9)"/><ellipse cx="587.3" cy="171.4" rx="6.3" ry="7.8" fill="url(#sg)" transform="rotate(172 587.3 171.4)"/><ellipse cx="545.9" cy="138.9" rx="3.0" ry="2.2" fill="url(#sgd)" transform="rotate(115 545.9 138.9)"/><ellipse cx="540.0" cy="142.8" rx="1.6" ry="2.7" fill="url(#sgn)" transform="rotate(163 540.0 142.8)"/><ellipse cx="646.4" cy="163.5" rx="2.1" ry="2.1" fill="url(#sgn)" transform="rotate(53 646.4 163.5)"/><ellipse cx="651.4" cy="172.4" rx="4.6" ry="3.2" fill="url(#sg)" transform="rotate(157 651.4 172.4)"/><ellipse cx="652.4" cy="186.2" rx="3.6" ry="5.8" fill="url(#sgn)" transform="rotate(72 652.4 186.2)"/><ellipse cx="667.1" cy="184.2" rx="1.6" ry="2.8" fill="url(#sgn)" transform="rotate(78 667.1 184.2)"/><ellipse cx="684.9" cy="181.3" rx="2.6" ry="1.7" fill="url(#sgn)" transform="rotate(19 684.9 181.3)"/><ellipse cx="673.1" cy="197.0" rx="1.8" ry="2.4" fill="url(#sgn)" transform="rotate(125 673.1 197.0)"/><ellipse cx="669.1" cy="175.3" rx="2.2" ry="3.0" fill="url(#sgd)" transform="rotate(146 669.1 175.3)"/><ellipse cx="594.2" cy="187.2" rx="4.8" ry="5.5" fill="url(#sg)" transform="rotate(118 594.2 187.2)"/><ellipse cx="580.4" cy="191.1" rx="2.8" ry="4.2" fill="url(#sgn)" transform="rotate(88 580.4 191.1)"/><ellipse cx="592.2" cy="195.1" rx="2.0" ry="2.2" fill="url(#sgn)" transform="rotate(31 592.2 195.1)"/><ellipse cx="614.9" cy="202.9" rx="5.6" ry="7.3" fill="url(#sg)" transform="rotate(31 614.9 202.9)"/><ellipse cx="640.5" cy="206.9" rx="2.3" ry="3.6" fill="url(#sgn)" transform="rotate(85 640.5 206.9)"/><ellipse cx="542.9" cy="209.8" rx="6.1" ry="5.3" fill="url(#sgn)" transform="rotate(54 542.9 209.8)"/><ellipse cx="573.5" cy="215.7" rx="7.7" ry="6.4" fill="url(#sg)" transform="rotate(6 573.5 215.7)"/><ellipse cx="557.6" cy="218.7" rx="1.6" ry="2.7" fill="url(#sgn)" transform="rotate(127 557.6 218.7)"/><ellipse cx="558.7" cy="219.1" rx="1.7" ry="2.6" fill="url(#sgn)" transform="rotate(95 558.7 219.1)"/><ellipse cx="559.8" cy="218.7" rx="2.1" ry="2.1" fill="url(#sgn)" transform="rotate(107 559.8 218.7)"/><ellipse cx="646.4" cy="213.8" rx="2.6" ry="1.7" fill="url(#sgn)" transform="rotate(174 646.4 213.8)"/><ellipse cx="541.0" cy="222.6" rx="2.1" ry="2.5" fill="url(#sgn)" transform="rotate(59 541.0 222.6)"/><ellipse cx="425.3" cy="227.6" rx="3.3" ry="4.8" fill="url(#sgn)" transform="rotate(152 425.3 227.6)"/><ellipse cx="472.6" cy="230.9" rx="3.2" ry="4.1" fill="url(#sgd)" transform="rotate(109 472.6 230.9)"/><ellipse cx="492.6" cy="228.3" rx="2.4" ry="3.9" fill="url(#sgn)" transform="rotate(147 492.6 228.3)"/><ellipse cx="494.1" cy="227.8" rx="3.9" ry="2.5" fill="url(#sgn)" transform="rotate(37 494.1 227.8)"/><ellipse cx="496.2" cy="228.5" rx="3.5" ry="2.7" fill="url(#sgn)" transform="rotate(174 496.2 228.5)"/><ellipse cx="525.8" cy="227.0" rx="5.0" ry="3.2" fill="url(#sgn)" transform="rotate(165 525.8 227.0)"/><ellipse cx="455.0" cy="235.1" rx="4.1" ry="4.6" fill="url(#sg)" transform="rotate(171 455.0 235.1)"/><ellipse cx="456.5" cy="236.8" rx="3.6" ry="5.2" fill="url(#sg)" transform="rotate(73 456.5 236.8)"/><ellipse cx="458.8" cy="243.7" rx="1.8" ry="2.8" fill="url(#sgn)" transform="rotate(138 458.8 243.7)"/><ellipse cx="399.1" cy="251.6" rx="6.9" ry="7.5" fill="url(#sg)" transform="rotate(84 399.1 251.6)"/><ellipse cx="397.7" cy="252.3" rx="6.3" ry="8.2" fill="url(#sg)" transform="rotate(40 397.7 252.3)"/><ellipse cx="404.6" cy="259.5" rx="2.2" ry="2.3" fill="url(#sgn)" transform="rotate(60 404.6 259.5)"/><ellipse cx="434.4" cy="258.0" rx="5.9" ry="4.5" fill="url(#sg)" transform="rotate(146 434.4 258.0)"/><ellipse cx="436.2" cy="256.9" rx="5.7" ry="4.7" fill="url(#sg)" transform="rotate(152 436.2 256.9)"/><ellipse cx="437.7" cy="257.5" rx="4.9" ry="5.5" fill="url(#sg)" transform="rotate(13 437.7 257.5)"/><ellipse cx="449.9" cy="253.6" rx="3.0" ry="3.1" fill="url(#sgd)" transform="rotate(103 449.9 253.6)"/><ellipse cx="487.4" cy="251.6" rx="3.9" ry="5.1" fill="url(#sg)" transform="rotate(105 487.4 251.6)"/><ellipse cx="483.4" cy="255.2" rx="2.5" ry="2.1" fill="url(#sgn)" transform="rotate(120 483.4 255.2)"/><ellipse cx="471.6" cy="261.5" rx="4.2" ry="4.8" fill="url(#sg)" transform="rotate(140 471.6 261.5)"/><ellipse cx="499.2" cy="261.5" rx="5.3" ry="6.3" fill="url(#sg)" transform="rotate(168 499.2 261.5)"/><ellipse cx="422.3" cy="270.9" rx="2.7" ry="4.3" fill="url(#sgn)" transform="rotate(57 422.3 270.9)"/><ellipse cx="427.2" cy="270.4" rx="2.3" ry="2.2" fill="url(#sgn)" transform="rotate(48 427.2 270.4)"/><ellipse cx="437.1" cy="270.4" rx="2.0" ry="2.2" fill="url(#sgn)" transform="rotate(170 437.1 270.4)"/><ellipse cx="456.0" cy="268.9" rx="3.7" ry="2.6" fill="url(#sgn)" transform="rotate(80 456.0 268.9)"/><ellipse cx="457.6" cy="268.7" rx="3.7" ry="2.6" fill="url(#sgn)" transform="rotate(166 457.6 268.7)"/><ellipse cx="476.5" cy="284.7" rx="2.9" ry="4.1" fill="url(#sgn)" transform="rotate(24 476.5 284.7)"/><ellipse cx="454.8" cy="298.0" rx="3.9" ry="6.8" fill="url(#sgn)" transform="rotate(55 454.8 298.0)"/><ellipse cx="453.8" cy="309.8" rx="2.3" ry="1.9" fill="url(#sgd)" transform="rotate(155 453.8 309.8)"/><ellipse cx="403.6" cy="318.7" rx="3.2" ry="3.6" fill="url(#sgn)" transform="rotate(55 403.6 318.7)"/><ellipse cx="431.2" cy="307.8" rx="7.6" ry="5.4" fill="url(#sgd)" transform="rotate(25 431.2 307.8)"/><ellipse cx="525.6" cy="297.0" rx="4.4" ry="3.4" fill="url(#sgn)" transform="rotate(70 525.6 297.0)"/><ellipse cx="526.2" cy="299.0" rx="3.3" ry="4.6" fill="url(#sgn)" transform="rotate(156 526.2 299.0)"/><ellipse cx="537.6" cy="297.0" rx="2.8" ry="4.2" fill="url(#sgn)" transform="rotate(156 537.6 297.0)"/><ellipse cx="517.4" cy="324.1" rx="6.5" ry="6.4" fill="url(#sgn)" transform="rotate(44 517.4 324.1)"/><ellipse cx="516.8" cy="324.8" rx="7.9" ry="5.2" fill="url(#sgn)" transform="rotate(18 516.8 324.8)"/><ellipse cx="517.9" cy="318.7" rx="2.6" ry="3.1" fill="url(#sgn)" transform="rotate(124 517.9 318.7)"/><ellipse cx="499.2" cy="332.5" rx="2.9" ry="2.8" fill="url(#sgn)" transform="rotate(171 499.2 332.5)"/><ellipse cx="385.8" cy="336.4" rx="2.8" ry="2.4" fill="url(#sgd)" transform="rotate(151 385.8 336.4)"/><ellipse cx="449.9" cy="337.4" rx="3.4" ry="3.5" fill="url(#sgn)" transform="rotate(172 449.9 337.4)"/><ellipse cx="442.0" cy="342.3" rx="4.8" ry="3.3" fill="url(#sgn)" transform="rotate(117 442.0 342.3)"/><ellipse cx="454.8" cy="346.3" rx="3.5" ry="4.5" fill="url(#sgn)" transform="rotate(128 454.8 346.3)"/><ellipse cx="517.9" cy="345.9" rx="6.3" ry="6.5" fill="url(#sg)" transform="rotate(20 517.9 345.9)"/><ellipse cx="535.8" cy="350.8" rx="3.5" ry="2.7" fill="url(#sgn)" transform="rotate(103 535.8 350.8)"/><ellipse cx="535.3" cy="352.2" rx="3.6" ry="2.6" fill="url(#sgn)" transform="rotate(34 535.3 352.2)"/><ellipse cx="535.0" cy="353.4" rx="3.8" ry="2.5" fill="url(#sgn)" transform="rotate(172 535.0 353.4)"/><ellipse cx="517.9" cy="352.2" rx="2.1" ry="2.5" fill="url(#sgn)" transform="rotate(2 517.9 352.2)"/><ellipse cx="487.4" cy="346.3" rx="2.3" ry="2.9" fill="url(#sgd)" transform="rotate(119 487.4 346.3)"/><ellipse cx="490.5" cy="355.0" rx="2.9" ry="2.8" fill="url(#sg)" transform="rotate(97 490.5 355.0)"/><ellipse cx="491.6" cy="354.8" rx="3.1" ry="2.6" fill="url(#sg)" transform="rotate(127 491.6 354.8)"/><ellipse cx="493.0" cy="355.1" rx="2.9" ry="2.8" fill="url(#sg)" transform="rotate(77 493.0 355.1)"/><ellipse cx="494.1" cy="355.5" rx="2.6" ry="3.2" fill="url(#sg)" transform="rotate(165 494.1 355.5)"/><ellipse cx="492.7" cy="365.3" rx="6.2" ry="5.4" fill="url(#sg)" transform="rotate(132 492.7 365.3)"/><ellipse cx="492.5" cy="367.6" rx="6.1" ry="5.4" fill="url(#sg)" transform="rotate(100 492.5 367.6)"/><ellipse cx="491.9" cy="370.6" rx="4.7" ry="7.0" fill="url(#sg)" transform="rotate(129 491.9 370.6)"/><ellipse cx="493.3" cy="382.7" rx="6.8" ry="6.0" fill="url(#sg)" transform="rotate(78 493.3 382.7)"/><ellipse cx="524.8" cy="377.8" rx="4.4" ry="7.5" fill="url(#sg)" transform="rotate(117 524.8 377.8)"/><ellipse cx="581.4" cy="231.9" rx="4.7" ry="4.4" fill="url(#sgn)" transform="rotate(133 581.4 231.9)"/><ellipse cx="543.9" cy="243.7" rx="1.9" ry="2.4" fill="url(#sgn)" transform="rotate(28 543.9 243.7)"/><ellipse cx="547.9" cy="246.7" rx="1.8" ry="2.8" fill="url(#sgn)" transform="rotate(97 547.9 246.7)"/><ellipse cx="551.8" cy="251.6" rx="6.0" ry="4.3" fill="url(#sg)" transform="rotate(54 551.8 251.6)"/><ellipse cx="562.7" cy="265.4" rx="3.1" ry="3.8" fill="url(#sgn)" transform="rotate(19 562.7 265.4)"/><ellipse cx="549.8" cy="261.5" rx="1.9" ry="2.3" fill="url(#sgn)" transform="rotate(92 549.8 261.5)"/><ellipse cx="575.5" cy="278.8" rx="2.9" ry="4.1" fill="url(#sgn)" transform="rotate(113 575.5 278.8)"/><ellipse cx="603.1" cy="264.4" rx="6.1" ry="4.3" fill="url(#sg)" transform="rotate(118 603.1 264.4)"/><ellipse cx="623.8" cy="268.4" rx="6.1" ry="4.3" fill="url(#sg)" transform="rotate(113 623.8 268.4)"/><ellipse cx="614.9" cy="269.4" rx="3.8" ry="2.5" fill="url(#sgd)" transform="rotate(55 614.9 269.4)"/><ellipse cx="641.5" cy="251.6" rx="3.9" ry="2.6" fill="url(#sg)" transform="rotate(83 641.5 251.6)"/><ellipse cx="655.3" cy="258.5" rx="2.8" ry="4.1" fill="url(#sgn)" transform="rotate(60 655.3 258.5)"/><ellipse cx="658.2" cy="268.1" rx="8.4" ry="6.1" fill="url(#sg)" transform="rotate(47 658.2 268.1)"/><ellipse cx="657.8" cy="269.1" rx="6.2" ry="8.3" fill="url(#sg)" transform="rotate(140 657.8 269.1)"/><ellipse cx="635.6" cy="258.5" rx="2.2" ry="2.0" fill="url(#sgn)" transform="rotate(102 635.6 258.5)"/><ellipse cx="655.3" cy="231.9" rx="3.3" ry="2.5" fill="url(#sgn)" transform="rotate(87 655.3 231.9)"/><ellipse cx="587.3" cy="297.0" rx="4.6" ry="5.8" fill="url(#sgn)" transform="rotate(152 587.3 297.0)"/><ellipse cx="582.4" cy="295.0" rx="2.3" ry="2.3" fill="url(#sgn)" transform="rotate(176 582.4 295.0)"/><ellipse cx="584.3" cy="311.8" rx="5.7" ry="4.6" fill="url(#sg)" transform="rotate(82 584.3 311.8)"/><ellipse cx="628.7" cy="308.8" rx="4.3" ry="3.4" fill="url(#sg)" transform="rotate(161 628.7 308.8)"/><ellipse cx="636.0" cy="305.8" rx="5.8" ry="4.5" fill="url(#sg)" transform="rotate(74 636.0 305.8)"/><ellipse cx="539.0" cy="297.0" rx="2.3" ry="2.3" fill="url(#sgn)" transform="rotate(163 539.0 297.0)"/><ellipse cx="549.8" cy="296.0" rx="2.3" ry="1.9" fill="url(#sgn)" transform="rotate(94 549.8 296.0)"/><ellipse cx="543.9" cy="294.0" rx="1.9" ry="2.3" fill="url(#sgn)" transform="rotate(123 543.9 294.0)"/><ellipse cx="609.0" cy="330.5" rx="2.6" ry="3.7" fill="url(#sgd)" transform="rotate(90 609.0 330.5)"/><ellipse cx="561.7" cy="334.4" rx="2.5" ry="2.6" fill="url(#sgd)" transform="rotate(22 561.7 334.4)"/><ellipse cx="542.9" cy="341.9" rx="3.4" ry="2.4" fill="url(#sgn)" transform="rotate(47 542.9 341.9)"/><ellipse cx="553.8" cy="347.2" rx="4.1" ry="4.9" fill="url(#sg)" transform="rotate(97 553.8 347.2)"/><ellipse cx="551.8" cy="352.2" rx="1.9" ry="2.8" fill="url(#sgn)" transform="rotate(7 551.8 352.2)"/><ellipse cx="654.3" cy="359.1" rx="2.1" ry="3.2" fill="url(#sgd)" transform="rotate(42 654.3 359.1)"/><ellipse cx="596.2" cy="379.8" rx="4.7" ry="5.5" fill="url(#sg)" transform="rotate(166 596.2 379.8)"/><ellipse cx="605.0" cy="372.9" rx="2.8" ry="3.0" fill="url(#sgn)" transform="rotate(138 605.0 372.9)"/><ellipse cx="587.3" cy="387.6" rx="2.6" ry="3.1" fill="url(#sgn)" transform="rotate(152 587.3 387.6)"/><ellipse cx="661.2" cy="306.8" rx="2.0" ry="2.2" fill="url(#sgd)" transform="rotate(72 661.2 306.8)"/><ellipse cx="669.1" cy="329.5" rx="2.1" ry="2.1" fill="url(#sgd)" transform="rotate(38 669.1 329.5)"/><ellipse cx="695.7" cy="366.9" rx="2.0" ry="2.3" fill="url(#sgd)" transform="rotate(51 695.7 366.9)"/></g>
<rect x="645.40" y="371.80" width="46.80" height="5.40" fill="#fff"/>
</g>
<g clip-path="url(#c3)">
<rect x="711.70" y="62.40" width="330.50" height="330.20" fill="#11314b"/>
<rect x="711.7" y="62.4" width="330.5" height="330.2" filter="url(#n3)"/>
<ellipse cx="1010.0" cy="130.0" rx="90.0" ry="90.0" fill="url(#hz)" opacity="0.55"/>
<ellipse cx="990.0" cy="330.0" rx="80.0" ry="80.0" fill="url(#hz)" opacity="0.5"/>
<ellipse cx="880.0" cy="90.0" rx="80.0" ry="40.0" fill="url(#hz)" opacity="0.35"/>
<g fill="#0c2c44" fill-opacity="0.22" stroke="#2c84a8" stroke-opacity="0.2" stroke-width="1.8" filter="url(#b3)"><circle cx="918" cy="307" r="13.7"/><circle cx="956" cy="366" r="10.8"/><circle cx="1023" cy="276" r="8.7"/><circle cx="867" cy="143" r="11.4"/><circle cx="1014" cy="315" r="12.8"/><circle cx="758" cy="266" r="8.0"/><circle cx="1000" cy="131" r="13.9"/><circle cx="1000" cy="157" r="11.2"/><circle cx="940" cy="381" r="9.8"/><circle cx="831" cy="117" r="8.4"/><circle cx="811" cy="261" r="12.1"/><circle cx="871" cy="166" r="12.2"/><circle cx="731" cy="384" r="12.5"/><circle cx="991" cy="68" r="10.2"/><circle cx="903" cy="65" r="9.1"/><circle cx="1027" cy="127" r="13.6"/><circle cx="1023" cy="176" r="11.1"/><circle cx="968" cy="98" r="12.8"/><circle cx="996" cy="74" r="8.5"/><circle cx="815" cy="167" r="8.5"/><circle cx="888" cy="196" r="11.6"/><circle cx="985" cy="212" r="8.3"/><circle cx="1014" cy="73" r="13.0"/><circle cx="920" cy="322" r="10.6"/><circle cx="1034" cy="212" r="12.4"/><circle cx="870" cy="158" r="8.9"/><circle cx="919" cy="227" r="8.5"/><circle cx="941" cy="281" r="10.2"/><circle cx="944" cy="155" r="12.6"/><circle cx="926" cy="254" r="11.3"/><circle cx="982" cy="276" r="10.1"/><circle cx="925" cy="305" r="10.1"/><circle cx="990" cy="349" r="13.9"/><circle cx="1028" cy="233" r="9.0"/><circle cx="988" cy="371" r="12.1"/><circle cx="949" cy="303" r="12.7"/><circle cx="904" cy="282" r="11.7"/><circle cx="968" cy="272" r="8.2"/><circle cx="726" cy="218" r="8.3"/><circle cx="756" cy="167" r="9.2"/><circle cx="914" cy="257" r="13.4"/><circle cx="915" cy="108" r="13.3"/><circle cx="836" cy="204" r="9.7"/><circle cx="1033" cy="187" r="13.5"/><circle cx="876" cy="199" r="13.9"/><circle cx="874" cy="157" r="8.7"/><circle cx="917" cy="208" r="12.7"/><circle cx="985" cy="66" r="9.6"/><circle cx="1021" cy="320" r="9.6"/><circle cx="913" cy="219" r="11.6"/><circle cx="957" cy="101" r="9.8"/><circle cx="888" cy="173" r="11.2"/><circle cx="907" cy="74" r="10.7"/><circle cx="1014" cy="355" r="8.1"/><circle cx="969" cy="203" r="12.2"/><circle cx="1013" cy="109" r="11.3"/><circle cx="876" cy="171" r="11.5"/><circle cx="980" cy="85" r="12.9"/><circle cx="973" cy="281" r="12.3"/><circle cx="1035" cy="391" r="8.3"/><circle cx="990" cy="134" r="13.7"/><circle cx="947" cy="106" r="13.5"/><circle cx="765" cy="267" r="8.6"/><circle cx="837" cy="86" r="11.5"/><circle cx="957" cy="352" r="10.6"/><circle cx="1022" cy="185" r="12.2"/><circle cx="1012" cy="245" r="9.6"/><circle cx="894" cy="146" r="11.1"/><circle cx="955" cy="121" r="11.9"/><circle cx="740" cy="282" r="8.7"/><circle cx="722" cy="301" r="8.9"/><circle cx="1026" cy="287" r="8.7"/><circle cx="1033" cy="281" r="8.8"/><circle cx="918" cy="179" r="10.0"/><circle cx="915" cy="177" r="8.8"/><circle cx="986" cy="276" r="10.6"/><circle cx="993" cy="233" r="11.4"/><circle cx="956" cy="193" r="8.2"/><circle cx="871" cy="313" r="10.8"/><circle cx="1006" cy="266" r="10.8"/><circle cx="745" cy="113" r="10.2"/><circle cx="839" cy="353" r="9.5"/><circle cx="804" cy="115" r="9.4"/><circle cx="935" cy="303" r="9.2"/><circle cx="720" cy="138" r="10.4"/><circle cx="1033" cy="182" r="10.8"/><circle cx="1022" cy="275" r="13.9"/><circle cx="847" cy="77" r="13.9"/><circle cx="883" cy="178" r="8.4"/><circle cx="1009" cy="224" r="8.3"/><circle cx="813" cy="79" r="13.8"/><circle cx="887" cy="90" r="8.6"/><circle cx="891" cy="366" r="13.1"/><circle cx="873" cy="251" r="11.8"/><circle cx="951" cy="363" r="10.7"/><circle cx="985" cy="136" r="9.9"/><circle cx="815" cy="105" r="9.5"/><circle cx="835" cy="95" r="9.9"/><circle cx="960" cy="246" r="11.9"/><circle cx="963" cy="252" r="12.9"/><circle cx="928" cy="377" r="12.2"/><circle cx="800" cy="330" r="8.8"/><circle cx="935" cy="156" r="12.6"/><circle cx="896" cy="71" r="8.8"/><circle cx="914" cy="138" r="10.2"/><circle cx="985" cy="302" r="11.2"/><circle cx="1022" cy="324" r="9.9"/><circle cx="1014" cy="214" r="10.6"/><circle cx="965" cy="371" r="13.8"/><circle cx="1003" cy="192" r="9.7"/><circle cx="960" cy="142" r="9.5"/><circle cx="1036" cy="339" r="11.7"/><circle cx="874" cy="74" r="8.6"/><circle cx="949" cy="359" r="12.8"/><circle cx="918" cy="326" r="8.1"/><circle cx="881" cy="256" r="10.3"/><circle cx="817" cy="71" r="10.3"/><circle cx="869" cy="294" r="13.9"/><circle cx="981" cy="367" r="12.0"/><circle cx="889" cy="326" r="11.6"/><circle cx="936" cy="234" r="8.5"/><circle cx="963" cy="298" r="13.6"/><circle cx="803" cy="298" r="12.5"/><circle cx="933" cy="378" r="12.1"/><circle cx="989" cy="306" r="9.3"/><circle cx="883" cy="358" r="13.8"/><circle cx="892" cy="192" r="10.3"/><circle cx="1012" cy="264" r="8.7"/><circle cx="939" cy="245" r="10.2"/><circle cx="1005" cy="132" r="9.6"/><circle cx="917" cy="358" r="11.8"/><circle cx="965" cy="136" r="11.4"/><circle cx="986" cy="352" r="10.5"/><circle cx="1031" cy="124" r="8.7"/><circle cx="898" cy="261" r="9.1"/><circle cx="908" cy="275" r="12.4"/><circle cx="1028" cy="167" r="11.9"/><circle cx="1018" cy="138" r="13.0"/><circle cx="869" cy="95" r="8.9"/><circle cx="981" cy="327" r="13.5"/><circle cx="1028" cy="268" r="8.6"/><circle cx="746" cy="83" r="10.2"/><circle cx="836" cy="288" r="13.8"/><circle cx="1024" cy="86" r="12.3"/><circle cx="838" cy="158" r="12.2"/><circle cx="972" cy="252" r="10.0"/><circle cx="992" cy="233" r="10.5"/><circle cx="790" cy="282" r="9.6"/></g>
<ellipse cx="800.0" cy="270.0" rx="105.0" ry="95.0" fill="url(#dk)" opacity="0.75"/>
<ellipse cx="765.0" cy="255.0" rx="14.0" ry="14.0" fill="url(#hz)" opacity="0.8"/>
<path d="M713.0,112.0 L714.2,108.2 L715.3,104.3 L715.6,100.3 L716.5,96.4 L718.0,92.6 L718.9,88.7 L720.4,85.0 L722.0,81.3 L722.8,77.4 L724.7,73.8 L725.5,69.8 L726.5,66.0 L727.0,64.0" stroke="#2a8cb0" stroke-width="7.5" opacity="0.18" fill="none" stroke-linecap="round" stroke-linejoin="round" filter="url(#b2)"/><g filter="url(#b1)" fill="none" stroke-linecap="round" stroke-linejoin="round"><path d="M713.0,112.0 L714.2,108.2 L715.3,104.3 L715.6,100.3 L716.5,96.4 L718.0,92.6 L718.9,88.7 L720.4,85.0 L722.0,81.3 L722.8,77.4 L724.7,73.8 L725.5,69.8 L726.5,66.0 L727.0,64.0" stroke="#2a8cb0" stroke-width="3.5" opacity="0.64"/><path d="M713.0,112.0 L714.2,108.2 L715.3,104.3 L715.6,100.3 L716.5,96.4 L718.0,92.6 L718.9,88.7 L720.4,85.0 L722.0,81.3 L722.8,77.4 L724.7,73.8 L725.5,69.8 L726.5,66.0 L727.0,64.0" stroke="#56bcd0" stroke-width="1.8" opacity="0.59"/><path d="" stroke="#a8ecff" stroke-width="1.5" opacity="0.35"/></g>
<path d="M725.0,72.0 L728.2,74.4 L732.0,75.6 L735.7,77.0 L739.4,78.4 L743.2,79.8 L747.2,80.3 L751.1,81.1 L755.1,81.4 L759.0,82.3 L763.0,82.7 L766.9,83.7 L770.9,83.7 L774.9,84.4 L778.9,84.3 L782.9,84.9 L786.8,85.7 L790.8,86.3 L794.7,86.8 L798.8,86.9 L802.6,88.5 L806.5,89.3 L810.5,89.8 L814.3,90.9 L818.2,91.7 L822.2,92.2 L826.0,93.6 L830.0,93.8 L833.8,95.6 L837.8,95.6 L841.5,97.4 L845.1,98.9 L849.1,100.0 L851.9,102.9 L855.3,105.1 L857.7,108.4 L860.4,111.3 L862.9,114.5 L864.8,118.0 L866.5,121.7 L868.9,124.9 L871.5,128.0 L873.8,131.2 L876.2,134.4 L878.7,137.5 L881.2,140.7 L883.6,143.9 L885.7,147.3 L888.4,150.2 L891.0,153.3 L892.8,156.9 L896.1,159.5 L898.2,162.9 L901.0,165.8 L903.4,169.0 L905.7,172.3 L908.2,175.4 L910.3,178.8 L912.6,182.1 L915.0,185.3 L917.2,188.6 L919.5,191.9 L921.6,195.3 L923.5,198.8 L926.4,201.8 L927.8,205.6 L930.2,208.8 L932.4,212.2 L935.0,215.3 L936.8,218.8 L938.6,222.4 L940.5,225.9 L941.0,228.0" stroke="#2a8cb0" stroke-width="8.0" opacity="0.22" fill="none" stroke-linecap="round" stroke-linejoin="round" filter="url(#b2)"/><g filter="url(#b1)" fill="none" stroke-linecap="round" stroke-linejoin="round"><path d="M725.0,72.0 L728.2,74.4 L732.0,75.6 L735.7,77.0 L739.4,78.4 L743.2,79.8 L747.2,80.3 L751.1,81.1 L755.1,81.4 L759.0,82.3 L763.0,82.7 L766.9,83.7 L770.9,83.7 L774.9,84.4 L778.9,84.3 L782.9,84.9 L786.8,85.7 L790.8,86.3 L794.7,86.8 L798.8,86.9 L802.6,88.5 L806.5,89.3 L810.5,89.8 L814.3,90.9 L818.2,91.7 L822.2,92.2 L826.0,93.6 L830.0,93.8 L833.8,95.6 L837.8,95.6 L841.5,97.4 L845.1,98.9 L849.1,100.0 L851.9,102.9 L855.3,105.1 L857.7,108.4 L860.4,111.3 L862.9,114.5 L864.8,118.0 L866.5,121.7 L868.9,124.9 L871.5,128.0 L873.8,131.2 L876.2,134.4 L878.7,137.5 L881.2,140.7 L883.6,143.9 L885.7,147.3 L888.4,150.2 L891.0,153.3 L892.8,156.9 L896.1,159.5 L898.2,162.9 L901.0,165.8 L903.4,169.0 L905.7,172.3 L908.2,175.4 L910.3,178.8 L912.6,182.1 L915.0,185.3 L917.2,188.6 L919.5,191.9 L921.6,195.3 L923.5,198.8 L926.4,201.8 L927.8,205.6 L930.2,208.8 L932.4,212.2 L935.0,215.3 L936.8,218.8 L938.6,222.4 L940.5,225.9 L941.0,228.0" stroke="#2a8cb0" stroke-width="4.0" opacity="0.78"/><path d="M725.0,72.0 L728.2,74.4 L732.0,75.6 L735.7,77.0 L739.4,78.4 L743.2,79.8 L747.2,80.3 L751.1,81.1 L755.1,81.4 L759.0,82.3 L763.0,82.7 L766.9,83.7 L770.9,83.7 L774.9,84.4 L778.9,84.3 L782.9,84.9 L786.8,85.7 L790.8,86.3 L794.7,86.8 L798.8,86.9 L802.6,88.5 L806.5,89.3 L810.5,89.8 L814.3,90.9 L818.2,91.7 L822.2,92.2 L826.0,93.6 L830.0,93.8 L833.8,95.6 L837.8,95.6 L841.5,97.4 L845.1,98.9 L849.1,100.0 L851.9,102.9 L855.3,105.1 L857.7,108.4 L860.4,111.3 L862.9,114.5 L864.8,118.0 L866.5,121.7 L868.9,124.9 L871.5,128.0 L873.8,131.2 L876.2,134.4 L878.7,137.5 L881.2,140.7 L883.6,143.9 L885.7,147.3 L888.4,150.2 L891.0,153.3 L892.8,156.9 L896.1,159.5 L898.2,162.9 L901.0,165.8 L903.4,169.0 L905.7,172.3 L908.2,175.4 L910.3,178.8 L912.6,182.1 L915.0,185.3 L917.2,188.6 L919.5,191.9 L921.6,195.3 L923.5,198.8 L926.4,201.8 L927.8,205.6 L930.2,208.8 L932.4,212.2 L935.0,215.3 L936.8,218.8 L938.6,222.4 L940.5,225.9 L941.0,228.0" stroke="#56bcd0" stroke-width="2.0" opacity="0.72"/><path d="M747.2,80.3 L751.1,81.1 M794.7,86.8 L798.8,86.9 M806.5,89.3 L810.5,89.8 L814.3,90.9 M818.2,91.7 L822.2,92.2 M830.0,93.8 L833.8,95.6 L837.8,95.6 M868.9,124.9 L871.5,128.0 L873.8,131.2 M878.7,137.5 L881.2,140.7 L883.6,143.9 M905.7,172.3 L908.2,175.4 L910.3,178.8 L912.6,182.1" stroke="#a8ecff" stroke-width="1.7" opacity="0.42"/></g>
<path d="M941.0,228.0 L938.3,231.0 L935.6,233.9 L932.7,236.7 L930.1,239.7 L927.1,242.4 L923.9,244.9 L921.5,248.1 L919.1,251.3 L916.5,254.3 L913.7,257.2 L911.1,260.2 L908.1,263.0 L906.0,266.4 L903.2,269.3 L900.7,272.4 L898.6,275.8 L896.2,279.0 L893.8,282.3 L890.8,285.0 L888.0,287.8 L885.4,290.9 L882.7,293.9 L879.0,295.6 L875.9,298.1 L873.0,300.8 L869.5,303.0 L866.4,305.5 L863.7,308.5 L861.0,311.4 L858.5,314.7 L856.2,317.9 L854.4,321.5 L852.6,325.1 L850.4,328.5 L848.7,332.1 L847.1,335.8 L844.8,339.1 L843.3,342.8 L843.0,345.0" stroke="#2a8cb0" stroke-width="8.2" opacity="0.22" fill="none" stroke-linecap="round" stroke-linejoin="round" filter="url(#b2)"/><g filter="url(#b1)" fill="none" stroke-linecap="round" stroke-linejoin="round"><path d="M941.0,228.0 L938.3,231.0 L935.6,233.9 L932.7,236.7 L930.1,239.7 L927.1,242.4 L923.9,244.9 L921.5,248.1 L919.1,251.3 L916.5,254.3 L913.7,257.2 L911.1,260.2 L908.1,263.0 L906.0,266.4 L903.2,269.3 L900.7,272.4 L898.6,275.8 L896.2,279.0 L893.8,282.3 L890.8,285.0 L888.0,287.8 L885.4,290.9 L882.7,293.9 L879.0,295.6 L875.9,298.1 L873.0,300.8 L869.5,303.0 L866.4,305.5 L863.7,308.5 L861.0,311.4 L858.5,314.7 L856.2,317.9 L854.4,321.5 L852.6,325.1 L850.4,328.5 L848.7,332.1 L847.1,335.8 L844.8,339.1 L843.3,342.8 L843.0,345.0" stroke="#2a8cb0" stroke-width="4.2" opacity="0.78"/><path d="M941.0,228.0 L938.3,231.0 L935.6,233.9 L932.7,236.7 L930.1,239.7 L927.1,242.4 L923.9,244.9 L921.5,248.1 L919.1,251.3 L916.5,254.3 L913.7,257.2 L911.1,260.2 L908.1,263.0 L906.0,266.4 L903.2,269.3 L900.7,272.4 L898.6,275.8 L896.2,279.0 L893.8,282.3 L890.8,285.0 L888.0,287.8 L885.4,290.9 L882.7,293.9 L879.0,295.6 L875.9,298.1 L873.0,300.8 L869.5,303.0 L866.4,305.5 L863.7,308.5 L861.0,311.4 L858.5,314.7 L856.2,317.9 L854.4,321.5 L852.6,325.1 L850.4,328.5 L848.7,332.1 L847.1,335.8 L844.8,339.1 L843.3,342.8 L843.0,345.0" stroke="#56bcd0" stroke-width="2.1" opacity="0.72"/><path d="M932.7,236.7 L930.1,239.7 L927.1,242.4 L923.9,244.9 M898.6,275.8 L896.2,279.0 L893.8,282.3 L890.8,285.0 M866.4,305.5 L863.7,308.5 M863.7,308.5 L861.0,311.4" stroke="#a8ecff" stroke-width="1.8" opacity="0.42"/></g>
<path d="M941.0,228.0 L944.4,230.1 L948.1,231.7 L951.8,233.3 L955.3,235.2 L958.7,237.2 L962.2,239.2 L965.6,241.3 L969.2,243.2 L971.5,246.5 L974.9,248.9 L977.3,252.1 L979.5,255.5 L981.1,259.2 L983.6,262.4 L985.1,266.1 L987.2,269.5 L989.2,273.0 L991.0,276.6 L992.4,280.3 L994.9,283.6 L995.9,287.5 L998.2,290.9 L999.1,294.8 L1000.8,298.4 L1002.7,302.0 L1003.5,305.9 L1005.0,309.7 L1006.1,313.5 L1006.6,317.5 L1008.0,321.3 L1008.7,325.2 L1010.2,329.0 L1010.4,333.1 L1011.2,337.0 L1012.4,340.8 L1013.0,344.8 L1013.6,348.7 L1015.1,352.5 L1015.7,356.5 L1016.8,360.3 L1017.9,364.2 L1019.0,368.0 L1020.0,371.9 L1021.4,375.6 L1022.6,379.4 L1023.6,383.3 L1024.8,387.1 L1026.5,390.8 L1027.0,394.0" stroke="#2a8cb0" stroke-width="8.5" opacity="0.22" fill="none" stroke-linecap="round" stroke-linejoin="round" filter="url(#b2)"/><g filter="url(#b1)" fill="none" stroke-linecap="round" stroke-linejoin="round"><path d="M941.0,228.0 L944.4,230.1 L948.1,231.7 L951.8,233.3 L955.3,235.2 L958.7,237.2 L962.2,239.2 L965.6,241.3 L969.2,243.2 L971.5,246.5 L974.9,248.9 L977.3,252.1 L979.5,255.5 L981.1,259.2 L983.6,262.4 L985.1,266.1 L987.2,269.5 L989.2,273.0 L991.0,276.6 L992.4,280.3 L994.9,283.6 L995.9,287.5 L998.2,290.9 L999.1,294.8 L1000.8,298.4 L1002.7,302.0 L1003.5,305.9 L1005.0,309.7 L1006.1,313.5 L1006.6,317.5 L1008.0,321.3 L1008.7,325.2 L1010.2,329.0 L1010.4,333.1 L1011.2,337.0 L1012.4,340.8 L1013.0,344.8 L1013.6,348.7 L1015.1,352.5 L1015.7,356.5 L1016.8,360.3 L1017.9,364.2 L1019.0,368.0 L1020.0,371.9 L1021.4,375.6 L1022.6,379.4 L1023.6,383.3 L1024.8,387.1 L1026.5,390.8 L1027.0,394.0" stroke="#2a8cb0" stroke-width="4.5" opacity="0.78"/><path d="M941.0,228.0 L944.4,230.1 L948.1,231.7 L951.8,233.3 L955.3,235.2 L958.7,237.2 L962.2,239.2 L965.6,241.3 L969.2,243.2 L971.5,246.5 L974.9,248.9 L977.3,252.1 L979.5,255.5 L981.1,259.2 L983.6,262.4 L985.1,266.1 L987.2,269.5 L989.2,273.0 L991.0,276.6 L992.4,280.3 L994.9,283.6 L995.9,287.5 L998.2,290.9 L999.1,294.8 L1000.8,298.4 L1002.7,302.0 L1003.5,305.9 L1005.0,309.7 L1006.1,313.5 L1006.6,317.5 L1008.0,321.3 L1008.7,325.2 L1010.2,329.0 L1010.4,333.1 L1011.2,337.0 L1012.4,340.8 L1013.0,344.8 L1013.6,348.7 L1015.1,352.5 L1015.7,356.5 L1016.8,360.3 L1017.9,364.2 L1019.0,368.0 L1020.0,371.9 L1021.4,375.6 L1022.6,379.4 L1023.6,383.3 L1024.8,387.1 L1026.5,390.8 L1027.0,394.0" stroke="#56bcd0" stroke-width="2.2" opacity="0.72"/><path d="M941.0,228.0 L944.4,230.1 L948.1,231.7 M951.8,233.3 L955.3,235.2 L958.7,237.2 M962.2,239.2 L965.6,241.3 M969.2,243.2 L971.5,246.5 M971.5,246.5 L974.9,248.9 L977.3,252.1 L979.5,255.5 M983.6,262.4 L985.1,266.1 L987.2,269.5 M991.0,276.6 L992.4,280.3 L994.9,283.6 L995.9,287.5" stroke="#a8ecff" stroke-width="1.9" opacity="0.42"/></g>
<path d="M1044.0,161.0 L1041.4,164.0 L1039.0,167.2 L1036.5,170.4 L1033.6,173.2 L1030.6,175.9 L1028.4,179.3 L1026.1,182.5 L1023.7,185.7 L1021.5,189.1 L1018.7,192.0 L1016.4,195.3 L1014.5,198.8 L1011.4,201.5 L1009.2,204.8 L1007.0,208.2 L1005.3,211.9 L1002.7,214.9 L1001.2,218.7 L999.1,222.2 L996.4,225.2 L994.4,228.7 L991.2,231.1 L989.0,234.6 L985.7,236.9 L982.1,238.7 L978.6,240.6 L974.8,242.0 L972.0,243.0" stroke="#2a8cb0" stroke-width="8.5" opacity="0.21" fill="none" stroke-linecap="round" stroke-linejoin="round" filter="url(#b2)"/><g filter="url(#b1)" fill="none" stroke-linecap="round" stroke-linejoin="round"><path d="M1044.0,161.0 L1041.4,164.0 L1039.0,167.2 L1036.5,170.4 L1033.6,173.2 L1030.6,175.9 L1028.4,179.3 L1026.1,182.5 L1023.7,185.7 L1021.5,189.1 L1018.7,192.0 L1016.4,195.3 L1014.5,198.8 L1011.4,201.5 L1009.2,204.8 L1007.0,208.2 L1005.3,211.9 L1002.7,214.9 L1001.2,218.7 L999.1,222.2 L996.4,225.2 L994.4,228.7 L991.2,231.1 L989.0,234.6 L985.7,236.9 L982.1,238.7 L978.6,240.6 L974.8,242.0 L972.0,243.0" stroke="#2a8cb0" stroke-width="4.5" opacity="0.74"/><path d="M1044.0,161.0 L1041.4,164.0 L1039.0,167.2 L1036.5,170.4 L1033.6,173.2 L1030.6,175.9 L1028.4,179.3 L1026.1,182.5 L1023.7,185.7 L1021.5,189.1 L1018.7,192.0 L1016.4,195.3 L1014.5,198.8 L1011.4,201.5 L1009.2,204.8 L1007.0,208.2 L1005.3,211.9 L1002.7,214.9 L1001.2,218.7 L999.1,222.2 L996.4,225.2 L994.4,228.7 L991.2,231.1 L989.0,234.6 L985.7,236.9 L982.1,238.7 L978.6,240.6 L974.8,242.0 L972.0,243.0" stroke="#56bcd0" stroke-width="2.2" opacity="0.68"/><path d="M1044.0,161.0 L1041.4,164.0 M1036.5,170.4 L1033.6,173.2 L1030.6,175.9 L1028.4,179.3 M1002.7,214.9 L1001.2,218.7 L999.1,222.2" stroke="#a8ecff" stroke-width="1.9" opacity="0.40"/></g>
<path d="M712.0,305.0 L713.2,308.8 L713.8,312.8 L713.9,316.9 L715.2,320.7 L715.7,324.7 L716.7,328.6 L718.1,332.3 L719.3,336.1 L720.5,339.9 L722.5,343.5 L723.8,347.2 L725.7,350.7 L728.2,354.0 L729.1,358.0 L731.8,361.1 L733.3,364.8 L734.8,368.5 L736.3,372.3 L737.4,376.1 L737.8,380.1 L738.8,384.0 L738.9,388.1 L738.7,392.1 L738.0,394.0" stroke="#2a8cb0" stroke-width="7.8" opacity="0.18" fill="none" stroke-linecap="round" stroke-linejoin="round" filter="url(#b2)"/><g filter="url(#b1)" fill="none" stroke-linecap="round" stroke-linejoin="round"><path d="M712.0,305.0 L713.2,308.8 L713.8,312.8 L713.9,316.9 L715.2,320.7 L715.7,324.7 L716.7,328.6 L718.1,332.3 L719.3,336.1 L720.5,339.9 L722.5,343.5 L723.8,347.2 L725.7,350.7 L728.2,354.0 L729.1,358.0 L731.8,361.1 L733.3,364.8 L734.8,368.5 L736.3,372.3 L737.4,376.1 L737.8,380.1 L738.8,384.0 L738.9,388.1 L738.7,392.1 L738.0,394.0" stroke="#2a8cb0" stroke-width="3.8" opacity="0.64"/><path d="M712.0,305.0 L713.2,308.8 L713.8,312.8 L713.9,316.9 L715.2,320.7 L715.7,324.7 L716.7,328.6 L718.1,332.3 L719.3,336.1 L720.5,339.9 L722.5,343.5 L723.8,347.2 L725.7,350.7 L728.2,354.0 L729.1,358.0 L731.8,361.1 L733.3,364.8 L734.8,368.5 L736.3,372.3 L737.4,376.1 L737.8,380.1 L738.8,384.0 L738.9,388.1 L738.7,392.1 L738.0,394.0" stroke="#56bcd0" stroke-width="1.9" opacity="0.59"/><path d="M715.2,320.7 L715.7,324.7 L716.7,328.6 L718.1,332.3 M719.3,336.1 L720.5,339.9 L722.5,343.5 M731.8,361.1 L733.3,364.8 L734.8,368.5 L736.3,372.3 M736.3,372.3 L737.4,376.1 M738.8,384.0 L738.9,388.1 L738.7,392.1 L738.0,394.0" stroke="#a8ecff" stroke-width="1.6" opacity="0.35"/></g>
<g filter="url(#sp)"><circle cx="1035.1" cy="213.0" r="2.2" fill="url(#sgd)"/><circle cx="782.9" cy="87.8" r="2.0" fill="url(#sgd)"/><circle cx="838.1" cy="356.5" r="2.3" fill="url(#sgd)"/><circle cx="739.1" cy="135.6" r="2.3" fill="url(#sgd)"/><circle cx="786.3" cy="97.5" r="1.5" fill="url(#sgd)"/><circle cx="772.5" cy="197.5" r="2.2" fill="url(#sgd)"/><circle cx="849.0" cy="322.2" r="2.0" fill="url(#sgn)"/><circle cx="794.1" cy="184.2" r="2.0" fill="url(#sgn)"/><circle cx="916.1" cy="219.1" r="1.6" fill="url(#sgd)"/><circle cx="783.2" cy="388.5" r="2.4" fill="url(#sgn)"/><circle cx="886.4" cy="296.5" r="1.7" fill="url(#sgd)"/><circle cx="760.0" cy="201.1" r="1.6" fill="url(#sgd)"/><circle cx="1015.4" cy="94.0" r="2.3" fill="url(#sgd)"/><circle cx="741.7" cy="222.6" r="2.5" fill="url(#sgn)"/><circle cx="897.9" cy="317.5" r="2.2" fill="url(#sgd)"/><circle cx="893.5" cy="259.6" r="1.8" fill="url(#sgn)"/><circle cx="858.6" cy="310.1" r="1.4" fill="url(#sgd)"/><circle cx="726.7" cy="276.1" r="2.3" fill="url(#sgd)"/><circle cx="898.6" cy="268.0" r="1.6" fill="url(#sgd)"/><circle cx="902.9" cy="275.9" r="1.8" fill="url(#sgd)"/><circle cx="821.2" cy="245.5" r="2.1" fill="url(#sgd)"/><circle cx="938.0" cy="343.0" r="1.9" fill="url(#sgn)"/><circle cx="814.1" cy="366.4" r="1.5" fill="url(#sgd)"/><circle cx="981.6" cy="72.8" r="2.0" fill="url(#sgn)"/><circle cx="1023.5" cy="287.8" r="1.7" fill="url(#sgd)"/><circle cx="920.3" cy="84.1" r="1.3" fill="url(#sgn)"/><circle cx="918.9" cy="115.9" r="1.8" fill="url(#sgd)"/><circle cx="998.9" cy="156.7" r="2.2" fill="url(#sgd)"/><circle cx="817.2" cy="145.4" r="1.9" fill="url(#sgd)"/><circle cx="908.0" cy="170.6" r="2.3" fill="url(#sgd)"/><ellipse cx="715.5" cy="74.2" rx="2.5" ry="3.3" fill="url(#sgn)" transform="rotate(139 715.5 74.2)"/><ellipse cx="751.7" cy="86.6" rx="5.7" ry="5.8" fill="url(#sg)" transform="rotate(148 751.7 86.6)"/><ellipse cx="752.6" cy="84.5" rx="6.7" ry="4.9" fill="url(#sg)" transform="rotate(66 752.6 84.5)"/><ellipse cx="774.2" cy="83.6" rx="9.6" ry="7.8" fill="url(#sg)" transform="rotate(138 774.2 83.6)"/><ellipse cx="776.4" cy="84.6" rx="9.2" ry="8.1" fill="url(#sg)" transform="rotate(38 776.4 84.6)"/><ellipse cx="780.0" cy="74.8" rx="2.7" ry="3.6" fill="url(#sgd)" transform="rotate(38 780.0 74.8)"/><ellipse cx="796.8" cy="92.6" rx="4.1" ry="2.9" fill="url(#sgn)" transform="rotate(133 796.8 92.6)"/><ellipse cx="864.8" cy="96.5" rx="4.9" ry="5.4" fill="url(#sgn)" transform="rotate(3 864.8 96.5)"/><ellipse cx="861.8" cy="89.6" rx="3.3" ry="2.8" fill="url(#sgd)" transform="rotate(16 861.8 89.6)"/><ellipse cx="844.1" cy="104.4" rx="3.4" ry="4.9" fill="url(#sgd)" transform="rotate(151 844.1 104.4)"/><ellipse cx="860.8" cy="80.7" rx="1.6" ry="2.7" fill="url(#sgd)" transform="rotate(7 860.8 80.7)"/><ellipse cx="770.2" cy="119.6" rx="6.0" ry="4.4" fill="url(#sgn)" transform="rotate(68 770.2 119.6)"/><ellipse cx="716.9" cy="110.3" rx="2.5" ry="2.6" fill="url(#sgd)" transform="rotate(99 716.9 110.3)"/><ellipse cx="846.6" cy="168.5" rx="4.2" ry="3.5" fill="url(#sg)" transform="rotate(109 846.6 168.5)"/><ellipse cx="810.2" cy="192.1" rx="3.0" ry="3.4" fill="url(#sg)" transform="rotate(147 810.2 192.1)"/><ellipse cx="725.8" cy="152.7" rx="2.0" ry="2.2" fill="url(#sgd)" transform="rotate(34 725.8 152.7)"/><ellipse cx="786.9" cy="163.5" rx="3.0" ry="2.2" fill="url(#sgd)" transform="rotate(24 786.9 163.5)"/><ellipse cx="825.4" cy="64.0" rx="1.8" ry="3.0" fill="url(#sgn)" transform="rotate(126 825.4 64.0)"/><ellipse cx="839.2" cy="64.0" rx="1.8" ry="2.4" fill="url(#sgn)" transform="rotate(172 839.2 64.0)"/><ellipse cx="792.8" cy="220.7" rx="2.0" ry="2.2" fill="url(#sgd)" transform="rotate(160 792.8 220.7)"/><ellipse cx="822.4" cy="213.8" rx="2.5" ry="1.8" fill="url(#sgd)" transform="rotate(107 822.4 213.8)"/><ellipse cx="869.7" cy="158.6" rx="2.6" ry="2.6" fill="url(#sgd)" transform="rotate(98 869.7 158.6)"/><ellipse cx="872.7" cy="148.7" rx="2.2" ry="2.0" fill="url(#sgd)" transform="rotate(136 872.7 148.7)"/><ellipse cx="923.3" cy="79.7" rx="4.7" ry="4.3" fill="url(#sg)" transform="rotate(149 923.3 79.7)"/><ellipse cx="964.7" cy="87.6" rx="1.8" ry="2.4" fill="url(#sgd)" transform="rotate(86 964.7 87.6)"/><ellipse cx="1030.8" cy="68.9" rx="2.3" ry="1.9" fill="url(#sgd)" transform="rotate(7 1030.8 68.9)"/><ellipse cx="898.7" cy="113.3" rx="4.7" ry="3.4" fill="url(#sgn)" transform="rotate(155 898.7 113.3)"/><ellipse cx="895.7" cy="110.3" rx="2.5" ry="2.1" fill="url(#sgn)" transform="rotate(41 895.7 110.3)"/><ellipse cx="900.7" cy="121.1" rx="2.3" ry="1.9" fill="url(#sgn)" transform="rotate(83 900.7 121.1)"/><ellipse cx="973.6" cy="132.0" rx="4.2" ry="2.8" fill="url(#sgn)" transform="rotate(146 973.6 132.0)"/><ellipse cx="922.3" cy="140.9" rx="2.4" ry="2.2" fill="url(#sgn)" transform="rotate(167 922.3 140.9)"/><ellipse cx="934.2" cy="146.8" rx="2.4" ry="3.3" fill="url(#sgn)" transform="rotate(146 934.2 146.8)"/><ellipse cx="893.8" cy="153.7" rx="3.0" ry="3.9" fill="url(#sgn)" transform="rotate(31 893.8 153.7)"/><ellipse cx="929.2" cy="174.4" rx="2.8" ry="4.6" fill="url(#sgd)" transform="rotate(163 929.2 174.4)"/><ellipse cx="966.7" cy="196.1" rx="5.7" ry="3.7" fill="url(#sgn)" transform="rotate(22 966.7 196.1)"/><ellipse cx="1023.9" cy="186.2" rx="3.2" ry="3.7" fill="url(#sgn)" transform="rotate(17 1023.9 186.2)"/><ellipse cx="1035.7" cy="182.3" rx="2.0" ry="2.2" fill="url(#sgn)" transform="rotate(38 1035.7 182.3)"/><ellipse cx="943.0" cy="156.6" rx="1.6" ry="2.8" fill="url(#sgn)" transform="rotate(109 943.0 156.6)"/><ellipse cx="959.8" cy="198.0" rx="2.4" ry="1.9" fill="url(#sgd)" transform="rotate(30 959.8 198.0)"/><ellipse cx="781.4" cy="272.9" rx="2.2" ry="3.7" fill="url(#sgn)" transform="rotate(157 781.4 272.9)"/><ellipse cx="742.6" cy="269.4" rx="4.1" ry="3.2" fill="url(#sgd)" transform="rotate(96 742.6 269.4)"/><ellipse cx="732.1" cy="306.8" rx="4.3" ry="3.5" fill="url(#sg)" transform="rotate(84 732.1 306.8)"/><ellipse cx="737.6" cy="300.9" rx="2.2" ry="2.0" fill="url(#sgn)" transform="rotate(71 737.6 300.9)"/><ellipse cx="853.9" cy="297.6" rx="4.0" ry="4.0" fill="url(#sgn)" transform="rotate(9 853.9 297.6)"/><ellipse cx="840.1" cy="306.8" rx="2.1" ry="2.5" fill="url(#sgn)" transform="rotate(19 840.1 306.8)"/><ellipse cx="830.3" cy="330.5" rx="2.1" ry="3.2" fill="url(#sgd)" transform="rotate(137 830.3 330.5)"/><ellipse cx="733.1" cy="350.2" rx="3.4" ry="5.8" fill="url(#sg)" transform="rotate(50 733.1 350.2)"/><ellipse cx="755.4" cy="345.3" rx="3.2" ry="2.1" fill="url(#sgd)" transform="rotate(74 755.4 345.3)"/><ellipse cx="784.9" cy="353.2" rx="2.4" ry="2.2" fill="url(#sgn)" transform="rotate(39 784.9 353.2)"/><ellipse cx="717.9" cy="365.0" rx="3.9" ry="3.3" fill="url(#sgd)" transform="rotate(86 717.9 365.0)"/><ellipse cx="776.1" cy="328.5" rx="1.9" ry="2.3" fill="url(#sgd)" transform="rotate(35 776.1 328.5)"/><ellipse cx="770.2" cy="235.9" rx="2.5" ry="1.8" fill="url(#sgd)" transform="rotate(96 770.2 235.9)"/><ellipse cx="1026.8" cy="342.3" rx="2.1" ry="2.4" fill="url(#sgn)" transform="rotate(133 1026.8 342.3)"/><ellipse cx="1002.2" cy="331.5" rx="2.0" ry="2.2" fill="url(#sgn)" transform="rotate(152 1002.2 331.5)"/><ellipse cx="970.6" cy="324.6" rx="2.3" ry="1.9" fill="url(#sgd)" transform="rotate(26 970.6 324.6)"/><ellipse cx="1022.9" cy="310.8" rx="2.2" ry="2.0" fill="url(#sgn)" transform="rotate(129 1022.9 310.8)"/><ellipse cx="879.0" cy="385.7" rx="2.0" ry="2.6" fill="url(#sgn)" transform="rotate(162 879.0 385.7)"/><ellipse cx="1036.7" cy="285.2" rx="2.3" ry="1.9" fill="url(#sgn)" transform="rotate(60 1036.7 285.2)"/><ellipse cx="952.9" cy="257.6" rx="2.6" ry="1.7" fill="url(#sgn)" transform="rotate(111 952.9 257.6)"/><ellipse cx="956.8" cy="345.3" rx="2.6" ry="1.7" fill="url(#sgn)" transform="rotate(133 956.8 345.3)"/></g>
<rect x="982.20" y="374.30" width="46.70" height="5.30" fill="#fff"/>
</g>
<text x="157.60" y="50.10" font-size="33" font-weight="normal" fill="#000" textLength="101.12" lengthAdjust="spacingAndGlyphs" stroke="#000" stroke-width="1.19" stroke-linejoin="round">EtHAn</text>
<text x="443.25" y="50.10" font-size="33" font-weight="normal" fill="#000" textLength="214.65" lengthAdjust="spacingAndGlyphs" stroke="#000" stroke-width="1.19" stroke-linejoin="round">pEDV6:dsRED</text>
<text x="754.40" y="50.10" font-size="33" font-weight="normal" fill="#000" textLength="254.50" lengthAdjust="spacingAndGlyphs" stroke="#000" stroke-width="1.19" stroke-linejoin="round">pEDV6:Pst_8713</text>
<text x="5.8" y="25.0" font-size="33" font-weight="bold" fill="#000">A</text>
<text x="1074.4" y="25.0" font-size="33" font-weight="bold" fill="#000">B</text>
<text x="5.0" y="442.4" font-size="33" font-weight="bold" fill="#000">C</text>
<text x="794.4" y="443.2" font-size="33" font-weight="bold" fill="#000">D</text>
<line x1="1189.50" y1="24.70" x2="1195.80" y2="24.70" stroke="#000" stroke-width="2.4"/>
<text x="1132.36" y="32.00" font-size="20.5" font-weight="normal" fill="#595959" textLength="37.55" lengthAdjust="spacingAndGlyphs" stroke="#595959" stroke-width="0.3" stroke-linejoin="round">300</text>
<line x1="1189.50" y1="140.80" x2="1195.80" y2="140.80" stroke="#000" stroke-width="2.4"/>
<text x="1132.01" y="148.10" font-size="20.5" font-weight="normal" fill="#595959" textLength="37.91" lengthAdjust="spacingAndGlyphs" stroke="#595959" stroke-width="0.3" stroke-linejoin="round">200</text>
<line x1="1189.50" y1="256.90" x2="1195.80" y2="256.90" stroke="#000" stroke-width="2.4"/>
<text x="1132.05" y="264.20" font-size="20.5" font-weight="normal" fill="#595959" textLength="37.88" lengthAdjust="spacingAndGlyphs" stroke="#595959" stroke-width="0.3" stroke-linejoin="round">100</text>
<line x1="1189.50" y1="373.00" x2="1195.80" y2="373.00" stroke="#000" stroke-width="2.4"/>
<text x="1158.01" y="380.30" font-size="20.5" font-weight="normal" fill="#595959" textLength="11.81" lengthAdjust="spacingAndGlyphs" stroke="#595959" stroke-width="0.3" stroke-linejoin="round">0</text>
<rect x="1257.80" y="101.40" width="58.00" height="271.60" fill="#404040" stroke="#141414" stroke-width="1.6"/>
<rect x="1440.60" y="116.50" width="57.10" height="256.50" fill="#404040" stroke="#141414" stroke-width="1.6"/>
<rect x="1623.60" y="284.60" width="56.50" height="88.40" fill="#bfbfbf" stroke="#141414" stroke-width="1.6"/>
<line x1="1195.80" y1="23.50" x2="1195.80" y2="374.50" stroke="#000" stroke-width="3"/>
<line x1="1189.50" y1="373.00" x2="1743.20" y2="373.00" stroke="#000" stroke-width="3"/>
<path d="M1282.90,78.50H1291.30M1287.10,78.50V125.40M1282.90,125.40H1291.30" stroke="#000" stroke-width="2.4" fill="none"/>
<path d="M1464.60,84.70H1473.00M1468.80,84.70V148.60M1464.60,148.60H1473.00" stroke="#000" stroke-width="2.4" fill="none"/>
<path d="M1647.60,262.30H1656.00M1651.80,262.30V306.60M1647.60,306.60H1656.00" stroke="#000" stroke-width="2.4" fill="none"/>
<text x="1285.4" y="68.8" font-size="30.5" font-weight="bold" fill="#000" text-anchor="middle">a</text>
<text x="1468.0" y="74.8" font-size="30.5" font-weight="bold" fill="#000" text-anchor="middle">a</text>
<text x="1651.6" y="253.4" font-size="30.5" font-weight="bold" fill="#000" text-anchor="middle">b</text>
<text x="1255.03" y="405.20" font-size="21" font-weight="normal" fill="#000" textLength="62.96" lengthAdjust="spacingAndGlyphs" stroke="#000" stroke-width="0.76" stroke-linejoin="round">EthAn</text>
<text x="1397.58" y="405.20" font-size="21" font-weight="normal" fill="#000" textLength="142.89" lengthAdjust="spacingAndGlyphs" stroke="#000" stroke-width="0.76" stroke-linejoin="round">pEDV6:dsRED</text>
<text x="1567.26" y="405.20" font-size="21" font-weight="normal" fill="#000" textLength="168.79" lengthAdjust="spacingAndGlyphs" stroke="#000" stroke-width="0.76" stroke-linejoin="round">pEDV6:Pst_8713</text>
<text transform="translate(1116.10,333.16) rotate(-90)" font-size="26.2" fill="#000" stroke="#000" stroke-linejoin="round"><tspan x="0" y="0" stroke-width="0.45" textLength="257.04" lengthAdjust="spacingAndGlyphs">Callose deposits/mm</tspan><tspan x="258.38" y="-8.20" font-size="17.2" stroke-width="0.4" textLength="8.71" lengthAdjust="spacingAndGlyphs">2</tspan></text>
<rect x="170.60" y="450.40" width="13.30" height="13.80" fill="#5b9bd5" stroke="#1a1a1a" stroke-width="1.2"/>
<text x="189.87" y="465.50" font-size="23.5" font-weight="normal" fill="#000" textLength="73.51" lengthAdjust="spacingAndGlyphs" stroke="#000" stroke-width="0.85" stroke-linejoin="round">EthAn</text>
<rect x="296.90" y="450.40" width="13.30" height="13.80" fill="#f4b183" stroke="#1a1a1a" stroke-width="1.2"/>
<text x="315.21" y="465.50" font-size="23.5" font-weight="normal" fill="#000" textLength="166.90" lengthAdjust="spacingAndGlyphs" stroke="#000" stroke-width="0.85" stroke-linejoin="round">pEDV6:dsRED</text>
<rect x="515.90" y="450.40" width="13.30" height="13.80" fill="#a9d18e" stroke="#1a1a1a" stroke-width="1.2"/>
<text x="534.38" y="465.50" font-size="23.5" font-weight="normal" fill="#000" textLength="197.07" lengthAdjust="spacingAndGlyphs" stroke="#000" stroke-width="0.85" stroke-linejoin="round">pEDV6:Pst_8713</text>
<line x1="165.60" y1="501.00" x2="775.40" y2="501.00" stroke="#7f7f7f" stroke-width="3.4" stroke-dasharray="11.4 8.23"/>
<line x1="165.60" y1="644.60" x2="775.40" y2="644.60" stroke="#7f7f7f" stroke-width="3.4" stroke-dasharray="11.4 8.23"/>
<line x1="139.80" y1="501.00" x2="147.20" y2="501.00" stroke="#000" stroke-width="2.6"/>
<text x="110.37" y="509.50" font-size="24.5" font-weight="normal" fill="#000" textLength="14.89" lengthAdjust="spacingAndGlyphs" stroke="#000" stroke-width="0.88" stroke-linejoin="round">5</text>
<line x1="139.80" y1="644.60" x2="147.20" y2="644.60" stroke="#000" stroke-width="2.6"/>
<text x="110.94" y="653.10" font-size="24.5" font-weight="normal" fill="#000" textLength="13.87" lengthAdjust="spacingAndGlyphs" stroke="#000" stroke-width="0.88" stroke-linejoin="round">4</text>
<line x1="139.80" y1="788.50" x2="147.20" y2="788.50" stroke="#000" stroke-width="2.6"/>
<text x="110.51" y="797.00" font-size="24.5" font-weight="normal" fill="#000" textLength="14.74" lengthAdjust="spacingAndGlyphs" stroke="#000" stroke-width="0.88" stroke-linejoin="round">3</text>
<rect x="212.65" y="685.85" width="60.30" height="102.65" fill="#5b9bd5" stroke="#0a0a0a" stroke-width="1.7"/>
<rect x="273.45" y="682.95" width="60.40" height="105.55" fill="#f4b183" stroke="#0a0a0a" stroke-width="1.7"/>
<rect x="334.35" y="684.95" width="60.40" height="103.55" fill="#a9d18e" stroke="#0a0a0a" stroke-width="1.7"/>
<rect x="527.55" y="641.25" width="60.60" height="147.25" fill="#5b9bd5" stroke="#0a0a0a" stroke-width="1.7"/>
<rect x="588.65" y="635.45" width="59.90" height="153.05" fill="#f4b183" stroke="#0a0a0a" stroke-width="1.7"/>
<rect x="649.05" y="586.05" width="60.60" height="202.45" fill="#a9d18e" stroke="#0a0a0a" stroke-width="1.7"/>
<line x1="147.20" y1="499.70" x2="147.20" y2="790.00" stroke="#000" stroke-width="3"/>
<line x1="139.80" y1="788.50" x2="775.20" y2="788.50" stroke="#000" stroke-width="3"/>
<path d="M238.60,679.30H247.40M243.00,679.30V690.60M238.60,690.60H247.40" stroke="#595959" stroke-width="2.6" fill="none"/>
<path d="M299.50,679.90H308.30M303.90,679.90V685.80M299.50,685.80H308.30" stroke="#595959" stroke-width="2.6" fill="none"/>
<path d="M360.20,680.80H369.00M364.60,680.80V687.60M360.20,687.60H369.00" stroke="#595959" stroke-width="2.6" fill="none"/>
<path d="M553.00,627.10H561.80M557.40,627.10V654.00M553.00,654.00H561.80" stroke="#595959" stroke-width="2.6" fill="none"/>
<path d="M613.70,625.60H622.50M618.10,625.60V644.30M613.70,644.30H622.50" stroke="#595959" stroke-width="2.6" fill="none"/>
<path d="M674.50,574.80H683.30M678.90,574.80V596.60M674.50,596.60H683.30" stroke="#595959" stroke-width="2.6" fill="none"/>
<text x="277.15" y="826.40" font-size="25" font-weight="normal" fill="#000" textLength="54.08" lengthAdjust="spacingAndGlyphs" stroke="#000" stroke-width="0.9" stroke-linejoin="round">0hpi</text>
<text x="583.72" y="826.40" font-size="25" font-weight="normal" fill="#000" textLength="69.84" lengthAdjust="spacingAndGlyphs" stroke="#000" stroke-width="0.9" stroke-linejoin="round">24hpi</text>
<text transform="translate(59.30,720.33) rotate(-90)" font-size="28.5" font-weight="normal" fill="#000" textLength="185.15" lengthAdjust="spacingAndGlyphs" stroke="#000" stroke-width="1.03" stroke-linejoin="round">Log(10) CFU/</text>
<text transform="translate(96.90,719.76) rotate(-90)" font-size="28.5" font-weight="normal" fill="#000" textLength="181.15" lengthAdjust="spacingAndGlyphs" stroke="#000" stroke-width="1.03" stroke-linejoin="round">unit leaf area</text>
<rect x="968.80" y="437.30" width="17.80" height="17.70" fill="#a6a6a6" stroke="#1a1a1a" stroke-width="1.6"/>
<text x="1005.69" y="454.40" font-size="24.8" font-weight="normal" fill="#000" textLength="77.78" lengthAdjust="spacingAndGlyphs" stroke="#000" stroke-width="0.89" stroke-linejoin="round">EtHAn</text>
<rect x="1163.50" y="437.30" width="17.80" height="17.70" fill="#000000" stroke="#1a1a1a" stroke-width="1.6"/>
<text x="1205.43" y="454.40" font-size="24.8" font-weight="normal" fill="#000" textLength="167.06" lengthAdjust="spacingAndGlyphs" stroke="#000" stroke-width="0.89" stroke-linejoin="round">pEDV6:dsRED</text>
<rect x="1439.40" y="437.30" width="17.80" height="17.70" fill="#f2f2f2" stroke="#1a1a1a" stroke-width="1.6"/>
<text x="1476.20" y="454.40" font-size="24.8" font-weight="normal" fill="#000" textLength="197.03" lengthAdjust="spacingAndGlyphs" stroke="#000" stroke-width="0.89" stroke-linejoin="round">pEDV6:Pst_8713</text>
<text transform="translate(836.10,752.11) rotate(-90)" font-size="30.5" font-weight="normal" fill="#000" textLength="268.77" lengthAdjust="spacingAndGlyphs" stroke="#000" stroke-width="0.7" stroke-linejoin="round">Relative expression</text>
<line x1="873.80" y1="478.40" x2="880.20" y2="478.40" stroke="#000" stroke-width="2.4"/>
<text x="849.69" y="485.20" font-size="20.5" font-weight="normal" fill="#000" textLength="12.65" lengthAdjust="spacingAndGlyphs" stroke="#000" stroke-width="0.4" stroke-linejoin="round">8</text>
<line x1="873.80" y1="554.62" x2="880.20" y2="554.62" stroke="#000" stroke-width="2.4"/>
<text x="849.44" y="561.42" font-size="20.5" font-weight="normal" fill="#000" textLength="12.92" lengthAdjust="spacingAndGlyphs" stroke="#000" stroke-width="0.4" stroke-linejoin="round">6</text>
<line x1="873.80" y1="630.85" x2="880.20" y2="630.85" stroke="#000" stroke-width="2.4"/>
<text x="850.18" y="637.65" font-size="20.5" font-weight="normal" fill="#000" textLength="11.78" lengthAdjust="spacingAndGlyphs" stroke="#000" stroke-width="0.4" stroke-linejoin="round">4</text>
<line x1="873.80" y1="707.07" x2="880.20" y2="707.07" stroke="#000" stroke-width="2.4"/>
<text x="849.43" y="713.87" font-size="20.5" font-weight="normal" fill="#000" textLength="13.06" lengthAdjust="spacingAndGlyphs" stroke="#000" stroke-width="0.4" stroke-linejoin="round">2</text>
<line x1="873.80" y1="783.30" x2="880.20" y2="783.30" stroke="#000" stroke-width="2.4"/>
<text x="849.82" y="790.10" font-size="20.5" font-weight="normal" fill="#000" textLength="12.38" lengthAdjust="spacingAndGlyphs" stroke="#000" stroke-width="0.4" stroke-linejoin="round">0</text>
<rect x="902.20" y="578.10" width="45.30" height="205.20" fill="#a6a6a6" stroke="#141414" stroke-width="1.6"/>
<rect x="991.70" y="569.90" width="45.00" height="213.40" fill="#262626" stroke="#141414" stroke-width="1.6"/>
<rect x="1080.90" y="666.00" width="44.70" height="117.30" fill="#f2f2f2" stroke="#141414" stroke-width="1.6"/>
<rect x="880.20" y="478.40" width="266.80" height="304.90" fill="none" stroke="#000" stroke-width="3"/>
<path d="M921.30,564.40H929.70M925.50,564.40V590.50M921.30,590.50H929.70" stroke="#000" stroke-width="2.4" fill="none"/>
<text x="925.3" y="558.8" font-size="23.5" font-weight="bold" fill="#000" text-anchor="middle">a</text>
<path d="M1010.50,558.80H1018.90M1014.70,558.80V580.50M1010.50,580.50H1018.90" stroke="#000" stroke-width="2.4" fill="none"/>
<text x="1014.6" y="554.0" font-size="23.5" font-weight="bold" fill="#000" text-anchor="middle">a</text>
<path d="M1099.20,659.30H1107.60M1103.40,659.30V671.70M1099.20,671.70H1107.60" stroke="#000" stroke-width="2.4" fill="none"/>
<text x="1103.6" y="652.6" font-size="23.5" font-weight="bold" fill="#000" text-anchor="middle">b</text>
<text x="944.50" y="818.60" font-size="28" font-weight="normal" fill="#000" textLength="112.89" lengthAdjust="spacingAndGlyphs" font-style="italic" stroke="#000" stroke-width="0.6" stroke-linejoin="round">NbPR1a</text>
<line x1="1204.90" y1="477.30" x2="1211.30" y2="477.30" stroke="#000" stroke-width="2.4"/>
<text x="1168.07" y="484.10" font-size="20.5" font-weight="normal" fill="#000" textLength="25.18" lengthAdjust="spacingAndGlyphs" stroke="#000" stroke-width="0.4" stroke-linejoin="round">20</text>
<line x1="1204.90" y1="538.50" x2="1211.30" y2="538.50" stroke="#000" stroke-width="2.4"/>
<text x="1167.45" y="545.30" font-size="20.5" font-weight="normal" fill="#000" textLength="25.94" lengthAdjust="spacingAndGlyphs" stroke="#000" stroke-width="0.4" stroke-linejoin="round">16</text>
<line x1="1204.90" y1="599.70" x2="1211.30" y2="599.70" stroke="#000" stroke-width="2.4"/>
<text x="1167.44" y="606.50" font-size="20.5" font-weight="normal" fill="#000" textLength="26.07" lengthAdjust="spacingAndGlyphs" stroke="#000" stroke-width="0.4" stroke-linejoin="round">12</text>
<line x1="1204.90" y1="660.90" x2="1211.30" y2="660.90" stroke="#000" stroke-width="2.4"/>
<text x="1180.69" y="667.70" font-size="20.5" font-weight="normal" fill="#000" textLength="12.65" lengthAdjust="spacingAndGlyphs" stroke="#000" stroke-width="0.4" stroke-linejoin="round">8</text>
<line x1="1204.90" y1="722.10" x2="1211.30" y2="722.10" stroke="#000" stroke-width="2.4"/>
<text x="1181.18" y="728.90" font-size="20.5" font-weight="normal" fill="#000" textLength="11.78" lengthAdjust="spacingAndGlyphs" stroke="#000" stroke-width="0.4" stroke-linejoin="round">4</text>
<line x1="1204.90" y1="783.30" x2="1211.30" y2="783.30" stroke="#000" stroke-width="2.4"/>
<text x="1180.82" y="790.10" font-size="20.5" font-weight="normal" fill="#000" textLength="12.38" lengthAdjust="spacingAndGlyphs" stroke="#000" stroke-width="0.4" stroke-linejoin="round">0</text>
<rect x="1233.50" y="551.20" width="44.40" height="232.10" fill="#a6a6a6" stroke="#141414" stroke-width="1.6"/>
<rect x="1321.40" y="538.10" width="45.40" height="245.20" fill="#262626" stroke="#141414" stroke-width="1.6"/>
<rect x="1411.10" y="652.20" width="44.20" height="131.10" fill="#f2f2f2" stroke="#141414" stroke-width="1.6"/>
<rect x="1211.30" y="477.30" width="265.80" height="306.00" fill="none" stroke="#000" stroke-width="3"/>
<path d="M1251.20,540.10H1259.60M1255.40,540.10V560.50M1251.20,560.50H1259.60" stroke="#000" stroke-width="2.4" fill="none"/>
<text x="1255.1" y="533.7" font-size="23.5" font-weight="bold" fill="#000" text-anchor="middle">a</text>
<path d="M1339.80,531.50H1348.20M1344.00,531.50V544.80M1339.80,544.80H1348.20" stroke="#000" stroke-width="2.4" fill="none"/>
<text x="1342.9" y="523.3" font-size="23.5" font-weight="bold" fill="#000" text-anchor="middle">a</text>
<path d="M1429.20,645.20H1437.60M1433.40,645.20V658.50M1429.20,658.50H1437.60" stroke="#000" stroke-width="2.4" fill="none"/>
<text x="1433.3" y="638.7" font-size="23.5" font-weight="bold" fill="#000" text-anchor="middle">b</text>
<text x="1297.79" y="815.70" font-size="28" font-weight="normal" fill="#000" textLength="97.57" lengthAdjust="spacingAndGlyphs" font-style="italic" stroke="#000" stroke-width="0.6" stroke-linejoin="round">NbPR2</text>
<line x1="1527.80" y1="475.50" x2="1534.20" y2="475.50" stroke="#000" stroke-width="2.4"/>
<text x="1490.07" y="482.30" font-size="20.5" font-weight="normal" fill="#000" textLength="25.62" lengthAdjust="spacingAndGlyphs" stroke="#000" stroke-width="0.4" stroke-linejoin="round">12</text>
<line x1="1527.80" y1="552.08" x2="1534.20" y2="552.08" stroke="#000" stroke-width="2.4"/>
<text x="1502.97" y="558.88" font-size="20.5" font-weight="normal" fill="#000" textLength="12.68" lengthAdjust="spacingAndGlyphs" stroke="#000" stroke-width="0.4" stroke-linejoin="round">9</text>
<line x1="1527.80" y1="628.65" x2="1534.20" y2="628.65" stroke="#000" stroke-width="2.4"/>
<text x="1502.86" y="635.45" font-size="20.5" font-weight="normal" fill="#000" textLength="12.68" lengthAdjust="spacingAndGlyphs" stroke="#000" stroke-width="0.4" stroke-linejoin="round">6</text>
<line x1="1527.80" y1="705.22" x2="1534.20" y2="705.22" stroke="#000" stroke-width="2.4"/>
<text x="1503.23" y="712.02" font-size="20.5" font-weight="normal" fill="#000" textLength="12.28" lengthAdjust="spacingAndGlyphs" stroke="#000" stroke-width="0.4" stroke-linejoin="round">3</text>
<line x1="1527.80" y1="781.80" x2="1534.20" y2="781.80" stroke="#000" stroke-width="2.4"/>
<text x="1503.24" y="788.60" font-size="20.5" font-weight="normal" fill="#000" textLength="12.16" lengthAdjust="spacingAndGlyphs" stroke="#000" stroke-width="0.4" stroke-linejoin="round">0</text>
<rect x="1556.60" y="544.10" width="44.20" height="237.70" fill="#a6a6a6" stroke="#141414" stroke-width="1.6"/>
<rect x="1645.00" y="553.20" width="44.60" height="228.60" fill="#262626" stroke="#141414" stroke-width="1.6"/>
<rect x="1732.60" y="700.00" width="46.50" height="81.80" fill="#f2f2f2" stroke="#141414" stroke-width="1.6"/>
<rect x="1534.20" y="475.50" width="266.50" height="306.30" fill="none" stroke="#000" stroke-width="3"/>
<path d="M1574.60,536.50H1583.00M1578.80,536.50V550.40M1574.60,550.40H1583.00" stroke="#000" stroke-width="2.4" fill="none"/>
<text x="1578.5" y="530.4" font-size="23.5" font-weight="bold" fill="#000" text-anchor="middle">a</text>
<path d="M1663.20,539.00H1671.60M1667.40,539.00V565.90M1663.20,565.90H1671.60" stroke="#000" stroke-width="2.4" fill="none"/>
<text x="1667.5" y="534.3" font-size="23.5" font-weight="bold" fill="#000" text-anchor="middle">a</text>
<path d="M1752.10,689.40H1760.50M1756.30,689.40V709.50M1752.10,709.50H1760.50" stroke="#000" stroke-width="2.4" fill="none"/>
<text x="1756.6" y="683.5" font-size="23.5" font-weight="bold" fill="#000" text-anchor="middle">b</text>
<text x="1583.80" y="814.80" font-size="28" font-weight="normal" fill="#000" textLength="162.53" lengthAdjust="spacingAndGlyphs" font-style="italic" stroke="#000" stroke-width="0.6" stroke-linejoin="round">NbWRKY12</text>
</svg></body></html>
